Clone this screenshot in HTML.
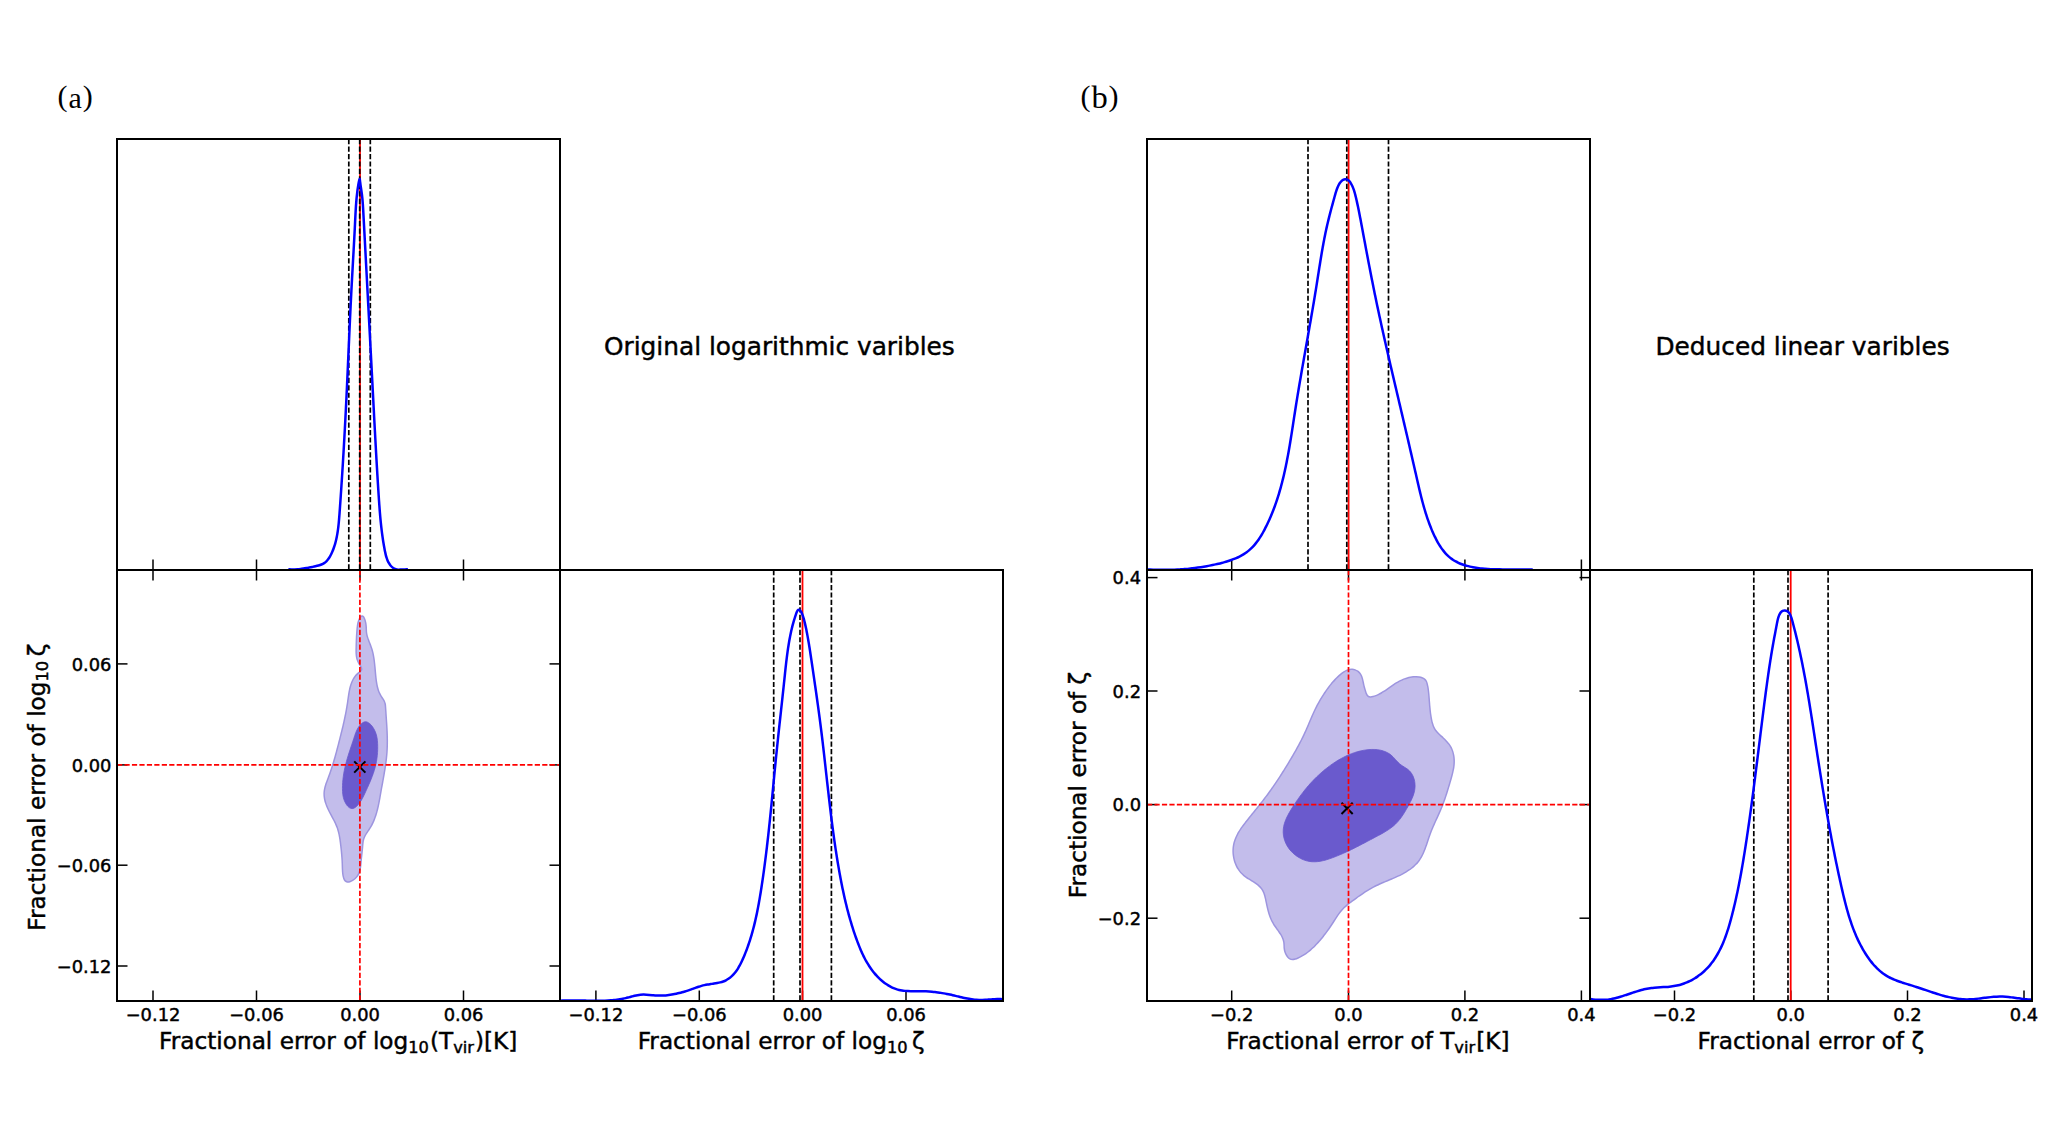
<!DOCTYPE html>
<html lang="en"><head><meta charset="utf-8"><title>Fractional error corner plots</title>
<style>html,body{margin:0;padding:0;background:#fff}svg{display:block}</style></head>
<body>
<svg width="2070" height="1142" viewBox="0 0 2070 1142">
<rect width="2070" height="1142" fill="#fff"/>
<defs>
<clipPath id="ca1"><rect x="117.00" y="139.00" width="443.00" height="431.00"/></clipPath>
<clipPath id="ca2"><rect x="117.00" y="570.00" width="443.00" height="431.00"/></clipPath>
<clipPath id="ca3"><rect x="560.00" y="570.00" width="443.00" height="431.00"/></clipPath>
<clipPath id="cb1"><rect x="1147.00" y="139.00" width="443.00" height="431.00"/></clipPath>
<clipPath id="cb2"><rect x="1147.00" y="570.00" width="443.00" height="431.00"/></clipPath>
<clipPath id="cb3"><rect x="1590.00" y="570.00" width="442.00" height="431.00"/></clipPath>
</defs>
<g clip-path="url(#ca2)">
<path d="M361.93,615.98C362.48,615.88 363.03,616.26 363.51,616.84C363.99,617.43 364.44,618.46 364.81,619.48C365.18,620.50 365.50,621.81 365.72,622.96C365.95,624.11 366.07,625.31 366.17,626.38C366.26,627.46 366.25,628.45 366.30,629.43C366.34,630.41 366.35,631.33 366.46,632.27C366.56,633.21 366.73,634.14 366.94,635.07C367.16,636.01 367.44,636.94 367.75,637.88C368.05,638.82 368.41,639.75 368.76,640.70C369.11,641.64 369.50,642.58 369.86,643.53C370.23,644.47 370.61,645.42 370.95,646.38C371.29,647.33 371.62,648.29 371.91,649.26C372.20,650.22 372.47,651.19 372.70,652.16C372.94,653.13 373.15,654.11 373.35,655.08C373.54,656.06 373.71,657.04 373.86,658.03C374.02,659.01 374.15,660.00 374.28,660.99C374.41,661.98 374.52,662.97 374.62,663.96C374.73,664.95 374.82,665.95 374.91,666.94C375.01,667.94 375.09,668.94 375.18,669.93C375.26,670.93 375.35,671.93 375.44,672.93C375.53,673.92 375.62,674.92 375.72,675.92C375.82,676.91 375.93,677.91 376.05,678.91C376.17,679.90 376.30,680.90 376.45,681.89C376.60,682.88 376.76,683.87 376.96,684.85C377.16,685.84 377.37,686.81 377.63,687.78C377.88,688.74 378.17,689.70 378.50,690.64C378.83,691.58 379.20,692.51 379.63,693.41C380.06,694.32 380.55,695.21 381.07,696.08C381.60,696.95 382.23,697.79 382.77,698.65C383.31,699.51 383.90,700.36 384.30,701.25C384.71,702.15 385.00,703.08 385.21,704.03C385.41,704.98 385.46,705.98 385.54,706.97C385.63,707.96 385.67,708.97 385.73,709.97C385.79,710.97 385.86,711.97 385.93,712.97C385.99,713.98 386.06,714.98 386.13,715.98C386.20,716.98 386.27,717.99 386.34,718.99C386.40,720.00 386.47,721.00 386.54,722.01C386.60,723.01 386.67,724.02 386.73,725.03C386.79,726.03 386.85,727.04 386.90,728.04C386.95,729.05 387.00,730.06 387.05,731.06C387.09,732.07 387.13,733.07 387.17,734.08C387.20,735.08 387.23,736.09 387.26,737.09C387.28,738.10 387.29,739.10 387.30,740.11C387.31,741.11 387.31,742.11 387.30,743.11C387.29,744.12 387.27,745.12 387.25,746.12C387.22,747.12 387.18,748.11 387.13,749.11C387.08,750.11 387.02,751.11 386.96,752.10C386.89,753.10 386.81,754.09 386.72,755.08C386.63,756.08 386.53,757.07 386.42,758.06C386.32,759.05 386.20,760.04 386.08,761.03C385.95,762.02 385.82,763.01 385.69,764.00C385.55,764.99 385.41,765.97 385.26,766.96C385.11,767.95 384.95,768.94 384.80,769.92C384.64,770.91 384.47,771.90 384.30,772.89C384.14,773.87 383.97,774.86 383.79,775.85C383.62,776.84 383.44,777.82 383.26,778.81C383.09,779.80 382.91,780.79 382.73,781.78C382.55,782.77 382.36,783.76 382.18,784.75C382.00,785.74 381.82,786.73 381.64,787.72C381.46,788.71 381.28,789.70 381.10,790.70C380.93,791.69 380.75,792.69 380.58,793.68C380.40,794.68 380.23,795.67 380.05,796.67C379.88,797.66 379.70,798.66 379.52,799.65C379.33,800.64 379.15,801.63 378.95,802.62C378.76,803.61 378.56,804.59 378.34,805.57C378.13,806.55 377.91,807.53 377.68,808.51C377.44,809.48 377.20,810.45 376.94,811.41C376.68,812.37 376.40,813.33 376.11,814.28C375.82,815.23 375.51,816.17 375.18,817.11C374.85,818.04 374.50,818.97 374.13,819.89C373.76,820.81 373.37,821.72 372.95,822.62C372.53,823.52 372.09,824.41 371.62,825.29C371.15,826.17 370.65,827.04 370.12,827.90C369.60,828.76 369.02,829.60 368.46,830.45C367.90,831.29 367.31,832.12 366.77,832.96C366.22,833.81 365.67,834.65 365.21,835.52C364.74,836.39 364.30,837.27 363.96,838.18C363.63,839.09 363.39,840.03 363.19,840.98C363.00,841.94 362.92,842.93 362.82,843.92C362.71,844.91 362.66,845.91 362.57,846.91C362.49,847.90 362.39,848.89 362.29,849.89C362.19,850.88 362.08,851.87 361.97,852.87C361.86,853.86 361.74,854.85 361.63,855.85C361.52,856.85 361.41,857.85 361.31,858.85C361.21,859.86 361.13,860.87 361.04,861.88C360.95,862.89 360.87,863.91 360.76,864.91C360.65,865.91 360.54,866.92 360.37,867.90C360.20,868.88 360.01,869.86 359.74,870.80C359.47,871.74 359.15,872.67 358.74,873.57C358.33,874.46 357.86,875.32 357.27,876.15C356.68,876.97 355.98,877.77 355.20,878.49C354.42,879.21 353.50,879.91 352.60,880.45C351.71,880.99 350.72,881.46 349.83,881.72C348.93,881.97 348.01,882.10 347.25,881.97C346.48,881.83 345.79,881.46 345.23,880.90C344.67,880.34 344.24,879.50 343.88,878.60C343.52,877.71 343.28,876.61 343.07,875.55C342.86,874.48 342.74,873.30 342.64,872.22C342.54,871.14 342.49,870.09 342.45,869.07C342.40,868.05 342.39,867.09 342.36,866.12C342.34,865.14 342.32,864.18 342.28,863.21C342.24,862.24 342.19,861.26 342.14,860.28C342.08,859.30 342.01,858.32 341.94,857.33C341.87,856.34 341.79,855.35 341.70,854.35C341.61,853.36 341.52,852.36 341.42,851.36C341.32,850.36 341.22,849.35 341.11,848.35C341.00,847.34 340.89,846.33 340.77,845.32C340.66,844.31 340.54,843.30 340.40,842.29C340.27,841.28 340.13,840.27 339.98,839.27C339.82,838.27 339.66,837.27 339.47,836.28C339.28,835.28 339.08,834.29 338.86,833.32C338.63,832.34 338.38,831.37 338.10,830.42C337.83,829.46 337.53,828.51 337.19,827.58C336.86,826.65 336.49,825.74 336.10,824.83C335.71,823.93 335.29,823.03 334.86,822.15C334.42,821.26 333.96,820.38 333.50,819.50C333.04,818.62 332.56,817.75 332.09,816.87C331.61,815.99 331.13,815.11 330.65,814.22C330.18,813.33 329.71,812.43 329.25,811.52C328.80,810.62 328.35,809.70 327.93,808.77C327.51,807.84 327.10,806.90 326.73,805.96C326.36,805.01 326.00,804.06 325.70,803.10C325.39,802.14 325.11,801.18 324.89,800.21C324.66,799.25 324.47,798.28 324.35,797.31C324.22,796.34 324.13,795.37 324.12,794.40C324.10,793.43 324.14,792.46 324.24,791.50C324.34,790.53 324.51,789.57 324.72,788.61C324.92,787.65 325.18,786.69 325.46,785.73C325.74,784.77 326.06,783.81 326.39,782.86C326.72,781.90 327.09,780.94 327.44,779.98C327.80,779.03 328.17,778.07 328.53,777.11C328.89,776.16 329.24,775.20 329.59,774.24C329.93,773.28 330.27,772.32 330.60,771.36C330.92,770.40 331.24,769.44 331.56,768.48C331.87,767.52 332.18,766.56 332.48,765.60C332.78,764.64 333.08,763.67 333.37,762.71C333.66,761.75 333.94,760.79 334.22,759.82C334.50,758.86 334.77,757.90 335.05,756.93C335.32,755.97 335.58,755.00 335.85,754.04C336.11,753.08 336.37,752.11 336.63,751.15C336.89,750.18 337.14,749.22 337.39,748.25C337.65,747.29 337.90,746.33 338.15,745.36C338.40,744.40 338.65,743.43 338.89,742.47C339.14,741.50 339.39,740.54 339.64,739.57C339.88,738.61 340.13,737.64 340.37,736.68C340.62,735.71 340.86,734.75 341.10,733.78C341.34,732.82 341.58,731.85 341.82,730.88C342.06,729.91 342.29,728.95 342.52,727.98C342.76,727.01 342.99,726.04 343.21,725.06C343.44,724.09 343.66,723.12 343.88,722.14C344.10,721.17 344.31,720.19 344.52,719.21C344.73,718.23 344.94,717.25 345.14,716.27C345.34,715.29 345.54,714.30 345.73,713.31C345.92,712.32 346.10,711.33 346.28,710.34C346.46,709.35 346.64,708.35 346.81,707.36C346.97,706.36 347.14,705.36 347.29,704.35C347.45,703.35 347.59,702.34 347.74,701.33C347.88,700.32 348.01,699.30 348.16,698.29C348.30,697.28 348.44,696.27 348.59,695.27C348.74,694.26 348.90,693.26 349.07,692.27C349.25,691.28 349.44,690.29 349.65,689.32C349.87,688.35 350.10,687.38 350.37,686.44C350.63,685.50 350.92,684.56 351.26,683.65C351.59,682.74 351.95,681.85 352.36,680.98C352.78,680.11 353.22,679.26 353.73,678.44C354.23,677.61 354.78,676.82 355.39,676.05C356.00,675.28 356.67,674.54 357.39,673.84C358.12,673.13 359.05,672.49 359.75,671.81C360.45,671.14 361.35,670.53 361.59,669.77C361.82,669.02 361.49,668.16 361.16,667.30C360.83,666.44 360.10,665.52 359.60,664.63C359.10,663.74 358.58,662.87 358.16,661.96C357.75,661.05 357.38,660.13 357.09,659.18C356.81,658.24 356.62,657.26 356.47,656.28C356.31,655.30 356.24,654.29 356.18,653.29C356.12,652.28 356.12,651.26 356.12,650.25C356.12,649.23 356.15,648.21 356.18,647.19C356.20,646.18 356.23,645.17 356.26,644.17C356.29,643.16 356.32,642.17 356.36,641.17C356.39,640.17 356.43,639.18 356.48,638.19C356.52,637.19 356.57,636.21 356.63,635.21C356.69,634.22 356.75,633.23 356.83,632.24C356.91,631.25 356.99,630.26 357.09,629.26C357.19,628.26 357.28,627.26 357.42,626.26C357.55,625.26 357.67,624.25 357.89,623.24C358.11,622.23 358.38,621.19 358.76,620.22C359.15,619.26 359.69,618.14 360.21,617.43C360.74,616.72 361.38,616.08 361.93,615.98Z" fill="#c3bdeb" stroke="#9d95df" stroke-width="1.5"/>
<path d="M365.11,721.81C365.90,721.73 366.72,721.90 367.51,722.21C368.30,722.53 369.09,723.08 369.83,723.71C370.57,724.34 371.31,725.15 371.97,726.01C372.64,726.86 373.28,727.84 373.84,728.81C374.40,729.78 374.91,730.83 375.33,731.83C375.76,732.83 376.09,733.83 376.38,734.81C376.66,735.80 376.86,736.76 377.03,737.73C377.21,738.70 377.32,739.66 377.41,740.63C377.51,741.60 377.57,742.57 377.62,743.55C377.66,744.54 377.69,745.53 377.70,746.53C377.71,747.52 377.71,748.53 377.68,749.53C377.65,750.54 377.61,751.55 377.54,752.57C377.48,753.58 377.39,754.60 377.29,755.61C377.18,756.63 377.06,757.64 376.92,758.65C376.77,759.67 376.61,760.68 376.43,761.69C376.24,762.69 376.04,763.70 375.81,764.69C375.59,765.69 375.34,766.68 375.08,767.66C374.82,768.65 374.53,769.62 374.23,770.59C373.93,771.56 373.61,772.53 373.28,773.48C372.95,774.44 372.60,775.39 372.24,776.34C371.89,777.29 371.52,778.23 371.14,779.17C370.76,780.11 370.37,781.04 369.98,781.97C369.58,782.91 369.18,783.83 368.77,784.76C368.37,785.68 367.95,786.60 367.54,787.52C367.13,788.44 366.71,789.35 366.30,790.27C365.88,791.18 365.48,792.10 365.06,793.01C364.64,793.92 364.23,794.83 363.79,795.74C363.35,796.64 362.90,797.55 362.40,798.45C361.91,799.35 361.39,800.25 360.81,801.14C360.23,802.03 359.60,802.94 358.93,803.79C358.25,804.63 357.50,805.52 356.75,806.21C355.99,806.91 355.19,807.57 354.39,807.97C353.60,808.37 352.78,808.63 351.99,808.61C351.21,808.59 350.41,808.29 349.67,807.86C348.93,807.42 348.19,806.74 347.53,806.00C346.87,805.27 346.25,804.34 345.71,803.43C345.17,802.51 344.69,801.50 344.30,800.51C343.90,799.53 343.60,798.53 343.35,797.53C343.11,796.54 342.94,795.53 342.80,794.53C342.67,793.53 342.59,792.52 342.54,791.51C342.48,790.50 342.47,789.49 342.46,788.48C342.46,787.47 342.48,786.46 342.51,785.45C342.54,784.44 342.60,783.43 342.67,782.42C342.74,781.41 342.83,780.40 342.93,779.39C343.04,778.39 343.16,777.38 343.30,776.38C343.43,775.37 343.59,774.37 343.75,773.37C343.92,772.37 344.10,771.37 344.30,770.38C344.50,769.38 344.71,768.39 344.93,767.40C345.15,766.41 345.39,765.43 345.63,764.44C345.88,763.46 346.14,762.48 346.41,761.51C346.67,760.53 346.95,759.56 347.24,758.59C347.52,757.62 347.82,756.65 348.12,755.69C348.42,754.72 348.73,753.76 349.04,752.79C349.35,751.83 349.67,750.87 349.99,749.91C350.30,748.94 350.63,747.98 350.95,747.02C351.27,746.06 351.60,745.09 351.92,744.13C352.24,743.17 352.57,742.20 352.89,741.24C353.21,740.27 353.52,739.30 353.84,738.33C354.16,737.36 354.46,736.38 354.78,735.42C355.11,734.45 355.43,733.48 355.80,732.53C356.18,731.58 356.57,730.63 357.03,729.71C357.49,728.79 357.99,727.87 358.58,727.01C359.16,726.15 359.82,725.27 360.51,724.55C361.20,723.83 361.97,723.14 362.73,722.68C363.50,722.23 364.31,721.89 365.11,721.81Z" fill="#6a5acd" stroke="#6a5acd" stroke-width="0.8"/>
</g>
<g clip-path="url(#cb2)">
<path d="M1352.21,669.20C1353.16,669.27 1354.14,669.49 1355.05,669.83C1355.97,670.16 1356.89,670.65 1357.69,671.22C1358.49,671.79 1359.25,672.49 1359.87,673.25C1360.48,674.01 1360.97,674.88 1361.39,675.78C1361.81,676.68 1362.11,677.66 1362.39,678.63C1362.67,679.61 1362.86,680.63 1363.08,681.62C1363.30,682.62 1363.48,683.61 1363.70,684.58C1363.92,685.54 1364.15,686.46 1364.42,687.43C1364.68,688.39 1364.96,689.36 1365.28,690.39C1365.60,691.42 1365.90,692.66 1366.35,693.60C1366.80,694.55 1367.30,695.52 1367.97,696.07C1368.64,696.62 1369.49,696.81 1370.35,696.89C1371.21,696.97 1372.21,696.75 1373.15,696.54C1374.09,696.32 1375.06,695.96 1375.99,695.60C1376.91,695.25 1377.81,694.84 1378.70,694.41C1379.58,693.98 1380.44,693.50 1381.30,693.01C1382.15,692.52 1382.98,692.00 1383.82,691.46C1384.65,690.92 1385.47,690.36 1386.29,689.80C1387.11,689.23 1387.93,688.65 1388.75,688.07C1389.57,687.49 1390.39,686.90 1391.22,686.33C1392.05,685.75 1392.89,685.17 1393.74,684.61C1394.59,684.05 1395.46,683.50 1396.34,682.97C1397.22,682.45 1398.11,681.93 1399.02,681.45C1399.92,680.97 1400.84,680.50 1401.77,680.08C1402.70,679.65 1403.64,679.25 1404.58,678.89C1405.53,678.53 1406.48,678.21 1407.44,677.93C1408.40,677.65 1409.37,677.41 1410.33,677.23C1411.30,677.04 1412.27,676.90 1413.24,676.82C1414.22,676.74 1415.19,676.71 1416.16,676.75C1417.13,676.79 1418.11,676.88 1419.08,677.05C1420.04,677.22 1421.05,677.42 1421.96,677.76C1422.86,678.09 1423.80,678.48 1424.53,679.06C1425.25,679.65 1425.85,680.41 1426.31,681.27C1426.76,682.13 1426.99,683.22 1427.26,684.21C1427.52,685.21 1427.72,686.23 1427.90,687.23C1428.08,688.23 1428.23,689.23 1428.36,690.23C1428.49,691.23 1428.59,692.23 1428.69,693.23C1428.79,694.23 1428.88,695.23 1428.96,696.22C1429.04,697.22 1429.12,698.22 1429.20,699.21C1429.28,700.21 1429.35,701.21 1429.43,702.20C1429.50,703.20 1429.58,704.20 1429.66,705.19C1429.75,706.19 1429.83,707.18 1429.93,708.18C1430.03,709.17 1430.13,710.17 1430.24,711.16C1430.35,712.16 1430.48,713.15 1430.61,714.15C1430.75,715.14 1430.90,716.14 1431.07,717.13C1431.24,718.13 1431.42,719.13 1431.63,720.12C1431.84,721.11 1432.06,722.10 1432.33,723.07C1432.61,724.04 1432.91,725.00 1433.28,725.92C1433.65,726.84 1434.06,727.73 1434.55,728.58C1435.04,729.43 1435.61,730.24 1436.21,731.02C1436.82,731.79 1437.51,732.52 1438.20,733.25C1438.89,733.97 1439.64,734.66 1440.38,735.36C1441.11,736.05 1441.88,736.73 1442.61,737.42C1443.35,738.11 1444.09,738.79 1444.80,739.50C1445.51,740.20 1446.21,740.91 1446.87,741.65C1447.53,742.39 1448.17,743.14 1448.76,743.92C1449.35,744.71 1449.91,745.52 1450.41,746.37C1450.92,747.22 1451.38,748.11 1451.78,749.03C1452.18,749.95 1452.53,750.91 1452.83,751.88C1453.13,752.85 1453.37,753.85 1453.57,754.85C1453.77,755.85 1453.92,756.87 1454.02,757.87C1454.12,758.87 1454.17,759.87 1454.19,760.86C1454.20,761.86 1454.16,762.85 1454.10,763.83C1454.03,764.82 1453.92,765.80 1453.79,766.78C1453.66,767.76 1453.49,768.73 1453.30,769.71C1453.12,770.68 1452.90,771.65 1452.67,772.62C1452.44,773.59 1452.19,774.56 1451.94,775.53C1451.68,776.50 1451.41,777.46 1451.14,778.43C1450.86,779.40 1450.58,780.37 1450.30,781.34C1450.02,782.31 1449.74,783.28 1449.46,784.25C1449.17,785.22 1448.88,786.19 1448.59,787.16C1448.30,788.13 1448.01,789.10 1447.71,790.06C1447.41,791.03 1447.11,792.00 1446.80,792.96C1446.50,793.92 1446.19,794.89 1445.87,795.84C1445.55,796.80 1445.23,797.76 1444.90,798.71C1444.57,799.66 1444.23,800.61 1443.89,801.55C1443.55,802.50 1443.20,803.44 1442.84,804.37C1442.48,805.31 1442.11,806.24 1441.74,807.16C1441.36,808.09 1440.98,809.00 1440.59,809.92C1440.20,810.83 1439.80,811.74 1439.40,812.65C1439.00,813.56 1438.59,814.46 1438.18,815.37C1437.78,816.27 1437.36,817.17 1436.95,818.08C1436.54,818.98 1436.13,819.88 1435.72,820.79C1435.31,821.69 1434.90,822.60 1434.49,823.51C1434.08,824.42 1433.68,825.33 1433.28,826.25C1432.89,827.17 1432.49,828.09 1432.11,829.02C1431.72,829.95 1431.35,830.88 1430.98,831.83C1430.61,832.77 1430.25,833.72 1429.90,834.68C1429.56,835.64 1429.22,836.61 1428.89,837.58C1428.56,838.55 1428.24,839.53 1427.91,840.51C1427.58,841.48 1427.26,842.47 1426.93,843.44C1426.61,844.42 1426.28,845.39 1425.94,846.36C1425.60,847.32 1425.25,848.28 1424.89,849.23C1424.52,850.18 1424.15,851.12 1423.75,852.04C1423.36,852.96 1422.95,853.87 1422.51,854.76C1422.07,855.65 1421.61,856.53 1421.12,857.38C1420.63,858.22 1420.12,859.05 1419.57,859.85C1419.02,860.66 1418.43,861.43 1417.82,862.18C1417.20,862.93 1416.55,863.65 1415.87,864.34C1415.19,865.04 1414.48,865.71 1413.75,866.36C1413.01,867.01 1412.25,867.64 1411.47,868.24C1410.69,868.85 1409.89,869.43 1409.06,869.99C1408.24,870.56 1407.40,871.10 1406.55,871.62C1405.69,872.15 1404.82,872.66 1403.94,873.15C1403.06,873.64 1402.16,874.11 1401.26,874.57C1400.36,875.04 1399.45,875.48 1398.53,875.91C1397.62,876.35 1396.70,876.76 1395.78,877.17C1394.86,877.58 1393.93,877.98 1393.01,878.38C1392.08,878.77 1391.15,879.15 1390.22,879.54C1389.30,879.92 1388.37,880.30 1387.44,880.69C1386.51,881.07 1385.58,881.45 1384.66,881.83C1383.74,882.22 1382.81,882.61 1381.90,883.00C1380.98,883.40 1380.06,883.80 1379.15,884.22C1378.25,884.63 1377.34,885.06 1376.44,885.50C1375.55,885.94 1374.65,886.39 1373.77,886.86C1372.89,887.33 1372.01,887.81 1371.14,888.30C1370.27,888.80 1369.40,889.31 1368.54,889.83C1367.68,890.35 1366.83,890.88 1365.98,891.42C1365.13,891.96 1364.29,892.51 1363.45,893.07C1362.61,893.63 1361.77,894.20 1360.94,894.77C1360.11,895.34 1359.29,895.92 1358.46,896.51C1357.64,897.09 1356.82,897.68 1356.01,898.27C1355.19,898.86 1354.38,899.46 1353.57,900.06C1352.75,900.65 1351.94,901.25 1351.14,901.85C1350.34,902.46 1349.53,903.06 1348.75,903.67C1347.96,904.29 1347.18,904.91 1346.42,905.56C1345.66,906.20 1344.92,906.86 1344.20,907.54C1343.49,908.23 1342.79,908.93 1342.13,909.67C1341.46,910.41 1340.83,911.18 1340.21,911.96C1339.60,912.75 1339.01,913.56 1338.43,914.38C1337.86,915.21 1337.30,916.05 1336.74,916.89C1336.19,917.74 1335.65,918.59 1335.10,919.44C1334.55,920.29 1334.01,921.15 1333.46,921.99C1332.91,922.84 1332.36,923.68 1331.80,924.52C1331.24,925.36 1330.68,926.19 1330.12,927.02C1329.55,927.85 1328.98,928.67 1328.40,929.49C1327.82,930.30 1327.24,931.11 1326.65,931.92C1326.06,932.72 1325.46,933.52 1324.85,934.32C1324.25,935.11 1323.63,935.90 1323.01,936.68C1322.38,937.46 1321.75,938.23 1321.11,938.99C1320.47,939.76 1319.82,940.52 1319.15,941.27C1318.49,942.02 1317.82,942.76 1317.13,943.50C1316.45,944.23 1315.75,944.96 1315.04,945.68C1314.33,946.39 1313.61,947.10 1312.88,947.79C1312.14,948.48 1311.39,949.16 1310.63,949.82C1309.87,950.48 1309.09,951.13 1308.30,951.75C1307.51,952.37 1306.71,952.97 1305.89,953.54C1305.07,954.12 1304.23,954.67 1303.38,955.19C1302.53,955.71 1301.67,956.20 1300.78,956.66C1299.90,957.12 1299.00,957.56 1298.09,957.95C1297.17,958.34 1296.22,958.74 1295.29,959.01C1294.35,959.28 1293.38,959.56 1292.48,959.54C1291.58,959.53 1290.68,959.35 1289.88,958.91C1289.09,958.48 1288.33,957.69 1287.69,956.93C1287.04,956.18 1286.48,955.28 1286.01,954.38C1285.54,953.48 1285.16,952.50 1284.86,951.52C1284.57,950.53 1284.38,949.49 1284.26,948.46C1284.13,947.43 1284.17,946.36 1284.11,945.33C1284.05,944.30 1284.03,943.28 1283.87,942.30C1283.71,941.32 1283.46,940.37 1283.15,939.45C1282.84,938.53 1282.44,937.64 1282.01,936.77C1281.59,935.89 1281.09,935.04 1280.57,934.20C1280.06,933.36 1279.49,932.53 1278.92,931.71C1278.36,930.88 1277.75,930.07 1277.17,929.25C1276.58,928.43 1275.98,927.62 1275.41,926.79C1274.83,925.96 1274.26,925.13 1273.74,924.28C1273.21,923.44 1272.71,922.57 1272.25,921.69C1271.79,920.82 1271.37,919.92 1270.98,919.01C1270.58,918.11 1270.22,917.18 1269.89,916.25C1269.55,915.32 1269.24,914.37 1268.94,913.42C1268.65,912.47 1268.38,911.51 1268.12,910.54C1267.87,909.57 1267.63,908.59 1267.40,907.61C1267.17,906.63 1266.95,905.65 1266.74,904.66C1266.53,903.67 1266.33,902.68 1266.12,901.69C1265.91,900.69 1265.72,899.69 1265.50,898.71C1265.28,897.73 1265.06,896.74 1264.79,895.78C1264.52,894.83 1264.24,893.88 1263.88,892.97C1263.52,892.07 1263.12,891.18 1262.64,890.35C1262.15,889.51 1261.59,888.72 1260.97,887.97C1260.34,887.22 1259.63,886.51 1258.89,885.84C1258.15,885.16 1257.34,884.53 1256.52,883.91C1255.70,883.30 1254.83,882.72 1253.98,882.16C1253.12,881.59 1252.24,881.06 1251.37,880.52C1250.51,879.99 1249.64,879.47 1248.79,878.94C1247.95,878.41 1247.10,877.88 1246.29,877.32C1245.48,876.75 1244.69,876.18 1243.94,875.56C1243.18,874.93 1242.46,874.28 1241.77,873.58C1241.09,872.88 1240.44,872.13 1239.83,871.36C1239.22,870.59 1238.65,869.77 1238.12,868.93C1237.59,868.10 1237.10,867.22 1236.65,866.33C1236.20,865.43 1235.79,864.51 1235.43,863.57C1235.06,862.63 1234.74,861.66 1234.46,860.69C1234.18,859.72 1233.94,858.72 1233.75,857.72C1233.55,856.73 1233.40,855.71 1233.29,854.70C1233.19,853.69 1233.12,852.67 1233.10,851.66C1233.08,850.65 1233.11,849.63 1233.17,848.63C1233.24,847.63 1233.36,846.63 1233.52,845.64C1233.67,844.66 1233.88,843.69 1234.13,842.74C1234.37,841.78 1234.67,840.84 1235.00,839.92C1235.32,838.99 1235.69,838.09 1236.09,837.19C1236.49,836.29 1236.93,835.40 1237.39,834.53C1237.85,833.65 1238.34,832.79 1238.85,831.94C1239.37,831.08 1239.91,830.24 1240.46,829.40C1241.01,828.57 1241.59,827.74 1242.17,826.92C1242.76,826.10 1243.36,825.29 1243.97,824.48C1244.58,823.67 1245.19,822.87 1245.81,822.07C1246.43,821.27 1247.06,820.48 1247.68,819.69C1248.31,818.89 1248.93,818.11 1249.56,817.32C1250.19,816.54 1250.82,815.75 1251.45,814.97C1252.08,814.19 1252.71,813.41 1253.34,812.63C1253.97,811.85 1254.61,811.07 1255.24,810.30C1255.87,809.52 1256.50,808.74 1257.13,807.96C1257.75,807.18 1258.38,806.40 1259.01,805.62C1259.63,804.84 1260.25,804.06 1260.87,803.27C1261.49,802.48 1262.11,801.70 1262.72,800.91C1263.33,800.11 1263.94,799.32 1264.55,798.52C1265.16,797.73 1265.76,796.92 1266.36,796.12C1266.96,795.32 1267.55,794.51 1268.14,793.70C1268.73,792.89 1269.32,792.08 1269.91,791.26C1270.49,790.45 1271.07,789.63 1271.65,788.81C1272.23,787.99 1272.81,787.17 1273.38,786.34C1273.95,785.52 1274.52,784.69 1275.08,783.86C1275.65,783.03 1276.21,782.20 1276.77,781.36C1277.33,780.53 1277.89,779.69 1278.44,778.85C1278.99,778.01 1279.54,777.17 1280.09,776.33C1280.64,775.48 1281.18,774.64 1281.72,773.79C1282.27,772.95 1282.81,772.10 1283.34,771.25C1283.88,770.40 1284.41,769.54 1284.94,768.69C1285.47,767.84 1286.00,766.98 1286.53,766.12C1287.05,765.27 1287.57,764.41 1288.09,763.55C1288.62,762.69 1289.13,761.83 1289.65,760.97C1290.16,760.11 1290.68,759.24 1291.19,758.38C1291.70,757.52 1292.21,756.65 1292.71,755.78C1293.22,754.92 1293.72,754.05 1294.22,753.18C1294.72,752.31 1295.22,751.44 1295.71,750.57C1296.20,749.70 1296.69,748.82 1297.17,747.94C1297.66,747.07 1298.14,746.19 1298.61,745.31C1299.08,744.43 1299.55,743.54 1300.02,742.65C1300.48,741.77 1300.94,740.88 1301.40,739.99C1301.85,739.09 1302.30,738.20 1302.74,737.30C1303.18,736.40 1303.61,735.50 1304.04,734.59C1304.47,733.68 1304.89,732.77 1305.30,731.86C1305.71,730.95 1306.12,730.03 1306.52,729.11C1306.93,728.19 1307.32,727.27 1307.72,726.35C1308.12,725.42 1308.51,724.50 1308.90,723.57C1309.29,722.65 1309.68,721.72 1310.08,720.79C1310.47,719.87 1310.86,718.94 1311.26,718.02C1311.66,717.10 1312.06,716.17 1312.46,715.25C1312.87,714.34 1313.28,713.42 1313.70,712.50C1314.12,711.59 1314.54,710.68 1314.97,709.77C1315.41,708.87 1315.85,707.97 1316.30,707.07C1316.75,706.17 1317.22,705.28 1317.69,704.40C1318.16,703.51 1318.65,702.63 1319.14,701.76C1319.63,700.88 1320.14,700.01 1320.65,699.15C1321.16,698.29 1321.68,697.43 1322.22,696.59C1322.75,695.74 1323.29,694.89 1323.84,694.06C1324.39,693.22 1324.96,692.40 1325.53,691.57C1326.10,690.75 1326.68,689.94 1327.27,689.13C1327.86,688.33 1328.45,687.53 1329.06,686.74C1329.67,685.95 1330.29,685.17 1330.91,684.39C1331.54,683.62 1332.17,682.86 1332.82,682.10C1333.47,681.35 1334.12,680.60 1334.80,679.87C1335.47,679.13 1336.16,678.41 1336.88,677.70C1337.59,677.00 1338.32,676.30 1339.08,675.63C1339.84,674.95 1340.62,674.28 1341.44,673.65C1342.25,673.02 1343.09,672.39 1343.96,671.84C1344.82,671.30 1345.71,670.77 1346.61,670.37C1347.52,669.97 1348.44,669.62 1349.37,669.43C1350.31,669.23 1351.26,669.14 1352.21,669.20Z" fill="#c3bdeb" stroke="#9d95df" stroke-width="1.5"/>
<path d="M1368.88,749.61C1369.87,749.53 1370.86,749.48 1371.85,749.45C1372.83,749.43 1373.82,749.44 1374.80,749.49C1375.78,749.53 1376.76,749.61 1377.73,749.73C1378.70,749.85 1379.66,750.01 1380.60,750.21C1381.54,750.42 1382.48,750.66 1383.39,750.96C1384.31,751.26 1385.21,751.60 1386.08,752.00C1386.96,752.40 1387.82,752.85 1388.65,753.36C1389.48,753.87 1390.29,754.44 1391.06,755.07C1391.84,755.70 1392.58,756.40 1393.31,757.14C1394.03,757.87 1394.72,758.68 1395.43,759.46C1396.15,760.25 1396.84,761.07 1397.57,761.83C1398.31,762.59 1399.05,763.35 1399.84,764.01C1400.64,764.68 1401.49,765.27 1402.34,765.84C1403.19,766.41 1404.09,766.90 1404.94,767.44C1405.79,767.98 1406.65,768.49 1407.43,769.08C1408.22,769.68 1408.96,770.31 1409.63,771.01C1410.30,771.71 1410.90,772.47 1411.45,773.27C1411.99,774.07 1412.47,774.92 1412.89,775.80C1413.31,776.68 1413.67,777.60 1413.97,778.54C1414.27,779.47 1414.51,780.44 1414.68,781.42C1414.86,782.39 1414.98,783.39 1415.03,784.38C1415.09,785.37 1415.08,786.37 1415.02,787.35C1414.96,788.34 1414.83,789.32 1414.66,790.29C1414.49,791.26 1414.25,792.21 1413.98,793.16C1413.72,794.12 1413.40,795.06 1413.05,795.99C1412.70,796.93 1412.31,797.86 1411.90,798.78C1411.49,799.70 1411.05,800.62 1410.60,801.53C1410.14,802.44 1409.66,803.35 1409.18,804.25C1408.70,805.15 1408.20,806.05 1407.71,806.94C1407.21,807.83 1406.71,808.72 1406.20,809.60C1405.69,810.48 1405.18,811.36 1404.65,812.22C1404.13,813.08 1403.59,813.93 1403.04,814.77C1402.49,815.61 1401.93,816.43 1401.35,817.24C1400.77,818.05 1400.17,818.84 1399.56,819.61C1398.94,820.38 1398.31,821.13 1397.65,821.86C1397.00,822.59 1396.32,823.30 1395.62,823.98C1394.92,824.66 1394.19,825.31 1393.44,825.95C1392.69,826.58 1391.92,827.19 1391.13,827.78C1390.34,828.37 1389.53,828.94 1388.71,829.49C1387.88,830.05 1387.04,830.58 1386.19,831.11C1385.34,831.64 1384.48,832.15 1383.61,832.65C1382.74,833.15 1381.86,833.64 1380.97,834.13C1380.09,834.62 1379.19,835.09 1378.30,835.57C1377.41,836.05 1376.51,836.52 1375.62,836.99C1374.72,837.46 1373.83,837.93 1372.94,838.41C1372.05,838.88 1371.16,839.35 1370.27,839.82C1369.38,840.30 1368.49,840.77 1367.61,841.24C1366.72,841.71 1365.83,842.18 1364.95,842.65C1364.06,843.11 1363.17,843.58 1362.29,844.04C1361.40,844.51 1360.51,844.97 1359.63,845.43C1358.74,845.89 1357.85,846.34 1356.96,846.79C1356.07,847.25 1355.18,847.70 1354.29,848.14C1353.40,848.59 1352.50,849.03 1351.61,849.47C1350.71,849.90 1349.81,850.34 1348.91,850.76C1348.01,851.19 1347.11,851.61 1346.20,852.03C1345.30,852.45 1344.39,852.86 1343.48,853.27C1342.57,853.67 1341.65,854.07 1340.73,854.46C1339.81,854.86 1338.89,855.24 1337.96,855.62C1337.04,856.00 1336.11,856.37 1335.17,856.73C1334.23,857.10 1333.29,857.46 1332.35,857.80C1331.40,858.15 1330.45,858.49 1329.50,858.81C1328.55,859.13 1327.59,859.44 1326.63,859.73C1325.67,860.01 1324.70,860.28 1323.74,860.52C1322.77,860.76 1321.81,860.97 1320.84,861.15C1319.87,861.33 1318.90,861.48 1317.92,861.59C1316.95,861.70 1315.98,861.78 1315.01,861.81C1314.04,861.84 1313.07,861.83 1312.10,861.76C1311.13,861.70 1310.16,861.59 1309.19,861.42C1308.23,861.26 1307.26,861.03 1306.30,860.76C1305.35,860.49 1304.39,860.16 1303.45,859.78C1302.51,859.41 1301.58,858.98 1300.67,858.51C1299.76,858.05 1298.87,857.53 1298.00,856.98C1297.13,856.43 1296.28,855.83 1295.46,855.20C1294.64,854.57 1293.85,853.90 1293.09,853.20C1292.33,852.50 1291.60,851.77 1290.92,851.01C1290.24,850.25 1289.59,849.46 1288.98,848.65C1288.38,847.83 1287.82,846.99 1287.31,846.14C1286.80,845.28 1286.33,844.40 1285.91,843.50C1285.49,842.61 1285.11,841.69 1284.79,840.77C1284.46,839.84 1284.19,838.90 1283.96,837.96C1283.73,837.02 1283.55,836.06 1283.42,835.10C1283.30,834.14 1283.22,833.18 1283.19,832.22C1283.17,831.26 1283.20,830.29 1283.28,829.33C1283.36,828.37 1283.50,827.41 1283.68,826.46C1283.86,825.51 1284.10,824.57 1284.37,823.62C1284.65,822.68 1284.97,821.75 1285.32,820.82C1285.68,819.89 1286.07,818.96 1286.49,818.04C1286.91,817.13 1287.36,816.21 1287.83,815.31C1288.30,814.40 1288.80,813.50 1289.31,812.60C1289.82,811.71 1290.35,810.82 1290.89,809.94C1291.42,809.06 1291.97,808.18 1292.52,807.31C1293.07,806.44 1293.62,805.58 1294.18,804.73C1294.74,803.87 1295.30,803.02 1295.86,802.18C1296.43,801.34 1297.00,800.51 1297.57,799.68C1298.15,798.86 1298.73,798.04 1299.31,797.22C1299.89,796.41 1300.48,795.60 1301.08,794.80C1301.67,794.00 1302.27,793.21 1302.88,792.43C1303.48,791.64 1304.09,790.86 1304.71,790.09C1305.33,789.32 1305.95,788.56 1306.58,787.80C1307.21,787.04 1307.85,786.29 1308.50,785.55C1309.14,784.81 1309.79,784.07 1310.45,783.34C1311.11,782.61 1311.78,781.89 1312.45,781.18C1313.12,780.46 1313.81,779.75 1314.50,779.05C1315.19,778.35 1315.89,777.66 1316.59,776.97C1317.30,776.29 1318.01,775.61 1318.74,774.94C1319.46,774.26 1320.20,773.60 1320.94,772.94C1321.68,772.28 1322.44,771.63 1323.20,770.99C1323.96,770.35 1324.73,769.71 1325.52,769.08C1326.30,768.45 1327.09,767.83 1327.89,767.22C1328.69,766.61 1329.51,766.00 1330.33,765.41C1331.15,764.81 1331.98,764.23 1332.81,763.66C1333.65,763.08 1334.50,762.52 1335.35,761.97C1336.21,761.42 1337.07,760.89 1337.94,760.36C1338.81,759.84 1339.69,759.33 1340.58,758.84C1341.46,758.34 1342.35,757.86 1343.25,757.40C1344.15,756.93 1345.06,756.48 1345.97,756.05C1346.89,755.62 1347.81,755.21 1348.73,754.81C1349.66,754.42 1350.59,754.04 1351.52,753.68C1352.46,753.32 1353.40,752.99 1354.35,752.67C1355.30,752.35 1356.25,752.05 1357.21,751.78C1358.16,751.50 1359.12,751.25 1360.09,751.02C1361.06,750.79 1362.03,750.58 1363.00,750.40C1363.97,750.22 1364.95,750.06 1365.93,749.93C1366.91,749.80 1367.90,749.69 1368.88,749.61Z" fill="#6a5acd" stroke="#6a5acd" stroke-width="0.8"/>
</g>
<line x1="153.00" y1="570.00" x2="153.00" y2="559.50" stroke="#000" stroke-width="1.50"/>
<line x1="153.00" y1="570.00" x2="153.00" y2="580.50" stroke="#000" stroke-width="1.50"/>
<line x1="256.50" y1="570.00" x2="256.50" y2="559.50" stroke="#000" stroke-width="1.50"/>
<line x1="256.50" y1="570.00" x2="256.50" y2="580.50" stroke="#000" stroke-width="1.50"/>
<line x1="360.00" y1="570.00" x2="360.00" y2="559.50" stroke="#000" stroke-width="1.50"/>
<line x1="360.00" y1="570.00" x2="360.00" y2="580.50" stroke="#000" stroke-width="1.50"/>
<line x1="463.50" y1="570.00" x2="463.50" y2="559.50" stroke="#000" stroke-width="1.50"/>
<line x1="463.50" y1="570.00" x2="463.50" y2="580.50" stroke="#000" stroke-width="1.50"/>
<line x1="153.00" y1="1001.00" x2="153.00" y2="990.50" stroke="#000" stroke-width="1.50"/>
<line x1="256.50" y1="1001.00" x2="256.50" y2="990.50" stroke="#000" stroke-width="1.50"/>
<line x1="360.00" y1="1001.00" x2="360.00" y2="990.50" stroke="#000" stroke-width="1.50"/>
<line x1="463.50" y1="1001.00" x2="463.50" y2="990.50" stroke="#000" stroke-width="1.50"/>
<line x1="117.00" y1="663.90" x2="127.50" y2="663.90" stroke="#000" stroke-width="1.50"/>
<line x1="117.00" y1="764.90" x2="127.50" y2="764.90" stroke="#000" stroke-width="1.50"/>
<line x1="117.00" y1="865.20" x2="127.50" y2="865.20" stroke="#000" stroke-width="1.50"/>
<line x1="117.00" y1="966.00" x2="127.50" y2="966.00" stroke="#000" stroke-width="1.50"/>
<line x1="560.00" y1="663.90" x2="549.50" y2="663.90" stroke="#000" stroke-width="1.50"/>
<line x1="560.00" y1="764.90" x2="549.50" y2="764.90" stroke="#000" stroke-width="1.50"/>
<line x1="560.00" y1="865.20" x2="549.50" y2="865.20" stroke="#000" stroke-width="1.50"/>
<line x1="560.00" y1="966.00" x2="549.50" y2="966.00" stroke="#000" stroke-width="1.50"/>
<line x1="595.90" y1="1001.00" x2="595.90" y2="990.50" stroke="#000" stroke-width="1.50"/>
<line x1="699.30" y1="1001.00" x2="699.30" y2="990.50" stroke="#000" stroke-width="1.50"/>
<line x1="802.50" y1="1001.00" x2="802.50" y2="990.50" stroke="#000" stroke-width="1.50"/>
<line x1="906.00" y1="1001.00" x2="906.00" y2="990.50" stroke="#000" stroke-width="1.50"/>
<line x1="1231.70" y1="570.00" x2="1231.70" y2="559.50" stroke="#000" stroke-width="1.50"/>
<line x1="1231.70" y1="570.00" x2="1231.70" y2="580.50" stroke="#000" stroke-width="1.50"/>
<line x1="1348.50" y1="570.00" x2="1348.50" y2="559.50" stroke="#000" stroke-width="1.50"/>
<line x1="1348.50" y1="570.00" x2="1348.50" y2="580.50" stroke="#000" stroke-width="1.50"/>
<line x1="1464.90" y1="570.00" x2="1464.90" y2="559.50" stroke="#000" stroke-width="1.50"/>
<line x1="1464.90" y1="570.00" x2="1464.90" y2="580.50" stroke="#000" stroke-width="1.50"/>
<line x1="1581.40" y1="570.00" x2="1581.40" y2="559.50" stroke="#000" stroke-width="1.50"/>
<line x1="1581.40" y1="570.00" x2="1581.40" y2="580.50" stroke="#000" stroke-width="1.50"/>
<line x1="1231.70" y1="1001.00" x2="1231.70" y2="990.50" stroke="#000" stroke-width="1.50"/>
<line x1="1348.50" y1="1001.00" x2="1348.50" y2="990.50" stroke="#000" stroke-width="1.50"/>
<line x1="1464.90" y1="1001.00" x2="1464.90" y2="990.50" stroke="#000" stroke-width="1.50"/>
<line x1="1581.40" y1="1001.00" x2="1581.40" y2="990.50" stroke="#000" stroke-width="1.50"/>
<line x1="1147.00" y1="577.60" x2="1157.50" y2="577.60" stroke="#000" stroke-width="1.50"/>
<line x1="1147.00" y1="691.00" x2="1157.50" y2="691.00" stroke="#000" stroke-width="1.50"/>
<line x1="1147.00" y1="804.60" x2="1157.50" y2="804.60" stroke="#000" stroke-width="1.50"/>
<line x1="1147.00" y1="918.20" x2="1157.50" y2="918.20" stroke="#000" stroke-width="1.50"/>
<line x1="1590.00" y1="577.60" x2="1579.50" y2="577.60" stroke="#000" stroke-width="1.50"/>
<line x1="1590.00" y1="691.00" x2="1579.50" y2="691.00" stroke="#000" stroke-width="1.50"/>
<line x1="1590.00" y1="804.60" x2="1579.50" y2="804.60" stroke="#000" stroke-width="1.50"/>
<line x1="1590.00" y1="918.20" x2="1579.50" y2="918.20" stroke="#000" stroke-width="1.50"/>
<line x1="1674.50" y1="1001.00" x2="1674.50" y2="990.50" stroke="#000" stroke-width="1.50"/>
<line x1="1790.80" y1="1001.00" x2="1790.80" y2="990.50" stroke="#000" stroke-width="1.50"/>
<line x1="1907.50" y1="1001.00" x2="1907.50" y2="990.50" stroke="#000" stroke-width="1.50"/>
<line x1="2024.00" y1="1001.00" x2="2024.00" y2="990.50" stroke="#000" stroke-width="1.50"/>
<line x1="360.00" y1="139.00" x2="360.00" y2="570.00" stroke="#ff0000" stroke-width="1.80"/>
<line x1="348.80" y1="139.00" x2="348.80" y2="570.00" stroke="#000" stroke-width="1.70" stroke-dasharray="5.21 2.25"/>
<line x1="359.70" y1="139.00" x2="359.70" y2="570.00" stroke="#000" stroke-width="1.70" stroke-dasharray="5.21 2.25"/>
<line x1="370.30" y1="139.00" x2="370.30" y2="570.00" stroke="#000" stroke-width="1.70" stroke-dasharray="5.21 2.25"/>
<path clip-path="url(#ca1)" d="M288.40,569.22C288.93,569.25 290.54,569.36 291.58,569.39C292.63,569.42 293.64,569.42 294.64,569.39C295.65,569.37 296.63,569.31 297.61,569.24C298.59,569.17 299.56,569.07 300.52,568.96C301.49,568.85 302.45,568.71 303.41,568.57C304.37,568.42 305.33,568.26 306.31,568.09C307.28,567.92 308.25,567.73 309.25,567.54C310.24,567.34 311.24,567.14 312.27,566.93C313.29,566.73 314.34,566.53 315.38,566.29C316.42,566.06 317.48,565.82 318.49,565.52C319.51,565.23 320.52,564.91 321.46,564.51C322.40,564.11 323.31,563.66 324.13,563.12C324.95,562.58 325.70,561.96 326.39,561.28C327.08,560.61 327.71,559.85 328.29,559.07C328.88,558.29 329.40,557.44 329.90,556.58C330.39,555.73 330.84,554.83 331.28,553.94C331.71,553.04 332.11,552.13 332.50,551.22C332.88,550.30 333.24,549.38 333.58,548.45C333.92,547.52 334.24,546.59 334.54,545.65C334.84,544.71 335.11,543.76 335.38,542.81C335.64,541.86 335.88,540.90 336.11,539.93C336.34,538.97 336.55,538.00 336.74,537.03C336.94,536.06 337.12,535.08 337.29,534.10C337.46,533.12 337.62,532.14 337.76,531.15C337.91,530.16 338.04,529.17 338.17,528.17C338.29,527.18 338.41,526.18 338.52,525.19C338.62,524.19 338.72,523.19 338.82,522.18C338.91,521.18 339.00,520.18 339.08,519.17C339.17,518.17 339.25,517.16 339.32,516.15C339.40,515.15 339.48,514.14 339.55,513.13C339.62,512.12 339.69,511.12 339.77,510.11C339.84,509.10 339.91,508.10 339.98,507.09C340.05,506.09 340.12,505.08 340.20,504.08C340.27,503.07 340.34,502.06 340.41,501.06C340.48,500.06 340.55,499.05 340.61,498.05C340.68,497.04 340.75,496.04 340.82,495.03C340.89,494.03 340.96,493.03 341.03,492.02C341.09,491.02 341.16,490.02 341.23,489.01C341.29,488.01 341.36,487.01 341.43,486.01C341.49,485.00 341.56,484.00 341.62,483.00C341.69,482.00 341.76,480.99 341.82,479.99C341.89,478.99 341.95,477.99 342.01,476.99C342.08,475.99 342.14,474.98 342.21,473.98C342.27,472.98 342.33,471.98 342.39,470.98C342.46,469.98 342.52,468.98 342.58,467.98C342.64,466.98 342.71,465.98 342.77,464.98C342.83,463.98 342.89,462.98 342.95,461.98C343.01,460.98 343.07,459.98 343.13,458.98C343.19,457.98 343.25,456.98 343.31,455.98C343.37,454.98 343.43,453.98 343.49,452.98C343.55,451.98 343.61,450.98 343.66,449.98C343.72,448.98 343.78,447.98 343.84,446.98C343.89,445.98 343.95,444.98 344.01,443.98C344.07,442.98 344.12,441.98 344.18,440.98C344.24,439.98 344.29,438.98 344.35,437.99C344.40,436.99 344.46,435.99 344.51,434.99C344.57,433.99 344.62,432.99 344.68,431.99C344.73,430.99 344.79,429.99 344.84,428.99C344.89,427.99 344.95,426.99 345.00,425.99C345.05,424.99 345.11,423.99 345.16,422.99C345.21,422.00 345.27,421.00 345.32,420.00C345.37,419.00 345.42,418.00 345.47,417.00C345.53,416.00 345.58,415.00 345.63,414.00C345.68,413.00 345.73,412.00 345.78,411.00C345.83,410.00 345.88,409.00 345.93,408.00C345.98,407.00 346.03,406.00 346.08,404.99C346.13,403.99 346.18,402.99 346.23,401.99C346.28,400.99 346.33,399.99 346.38,398.99C346.42,397.99 346.47,396.99 346.52,395.99C346.57,394.98 346.62,393.98 346.66,392.98C346.71,391.98 346.76,390.98 346.81,389.97C346.85,388.97 346.90,387.97 346.95,386.97C346.99,385.97 347.04,384.96 347.09,383.96C347.13,382.96 347.18,381.96 347.22,380.95C347.27,379.95 347.32,378.95 347.36,377.94C347.41,376.94 347.45,375.94 347.50,374.93C347.54,373.93 347.59,372.93 347.64,371.93C347.68,370.92 347.73,369.92 347.77,368.92C347.82,367.91 347.86,366.91 347.91,365.91C347.95,364.90 348.00,363.90 348.04,362.89C348.08,361.89 348.13,360.89 348.17,359.88C348.22,358.88 348.26,357.88 348.31,356.87C348.35,355.87 348.40,354.87 348.44,353.86C348.49,352.86 348.53,351.85 348.57,350.85C348.62,349.85 348.66,348.84 348.71,347.84C348.75,346.84 348.80,345.83 348.84,344.83C348.89,343.83 348.93,342.82 348.98,341.82C349.02,340.82 349.07,339.81 349.11,338.81C349.16,337.81 349.20,336.80 349.25,335.80C349.29,334.79 349.34,333.79 349.38,332.79C349.43,331.79 349.47,330.78 349.52,329.78C349.56,328.78 349.61,327.77 349.65,326.77C349.70,325.77 349.75,324.76 349.79,323.76C349.84,322.76 349.88,321.76 349.93,320.75C349.98,319.75 350.02,318.75 350.07,317.75C350.12,316.75 350.16,315.74 350.21,314.74C350.26,313.74 350.31,312.74 350.35,311.74C350.40,310.73 350.45,309.73 350.50,308.73C350.55,307.73 350.59,306.73 350.64,305.73C350.69,304.73 350.74,303.73 350.79,302.72C350.84,301.72 350.89,300.72 350.94,299.72C350.99,298.72 351.04,297.72 351.09,296.72C351.14,295.72 351.19,294.72 351.24,293.72C351.29,292.72 351.34,291.72 351.39,290.73C351.45,289.73 351.50,288.73 351.55,287.73C351.60,286.73 351.65,285.73 351.71,284.73C351.76,283.74 351.81,282.74 351.87,281.74C351.92,280.74 351.98,279.74 352.03,278.75C352.09,277.75 352.14,276.75 352.20,275.75C352.25,274.76 352.31,273.76 352.36,272.76C352.42,271.77 352.47,270.77 352.53,269.77C352.58,268.77 352.64,267.78 352.70,266.78C352.75,265.78 352.81,264.78 352.86,263.79C352.92,262.79 352.98,261.79 353.03,260.79C353.09,259.79 353.14,258.80 353.20,257.80C353.26,256.80 353.31,255.80 353.37,254.80C353.42,253.80 353.48,252.80 353.54,251.80C353.59,250.80 353.65,249.80 353.70,248.80C353.76,247.80 353.81,246.80 353.87,245.80C353.92,244.80 353.98,243.79 354.03,242.79C354.09,241.79 354.14,240.78 354.19,239.78C354.25,238.78 354.30,237.77 354.35,236.76C354.41,235.76 354.46,234.75 354.51,233.75C354.56,232.74 354.61,231.73 354.67,230.72C354.72,229.71 354.77,228.70 354.82,227.69C354.87,226.68 354.92,225.67 354.97,224.66C355.01,223.65 355.06,222.64 355.11,221.62C355.16,220.61 355.21,219.59 355.26,218.58C355.31,217.57 355.36,216.55 355.41,215.54C355.46,214.53 355.51,213.51 355.57,212.50C355.62,211.49 355.68,210.48 355.74,209.47C355.80,208.46 355.87,207.45 355.93,206.45C356.00,205.44 356.07,204.44 356.15,203.44C356.22,202.44 356.30,201.44 356.39,200.45C356.47,199.45 356.56,198.46 356.66,197.47C356.76,196.48 356.86,195.50 356.97,194.52C357.07,193.54 357.19,192.56 357.31,191.59C357.44,190.62 357.56,189.66 357.70,188.70C357.84,187.73 357.99,186.78 358.14,185.83C358.30,184.88 358.47,183.89 358.63,183.00C358.80,182.10 358.99,181.11 359.15,180.46C359.31,179.80 359.46,179.23 359.58,179.08C359.69,178.93 359.76,179.16 359.84,179.58C359.93,179.99 359.98,180.76 360.08,181.57C360.18,182.37 360.30,183.38 360.45,184.40C360.59,185.42 360.77,186.56 360.94,187.68C361.11,188.80 361.30,189.98 361.46,191.12C361.62,192.25 361.78,193.39 361.91,194.48C362.05,195.58 362.17,196.65 362.28,197.70C362.39,198.76 362.48,199.79 362.57,200.81C362.66,201.83 362.74,202.83 362.81,203.82C362.88,204.82 362.94,205.79 363.01,206.77C363.07,207.75 363.12,208.72 363.18,209.69C363.23,210.66 363.28,211.63 363.34,212.61C363.39,213.58 363.44,214.55 363.49,215.53C363.55,216.51 363.60,217.49 363.65,218.47C363.71,219.45 363.76,220.43 363.81,221.42C363.87,222.40 363.92,223.39 363.97,224.38C364.02,225.37 364.08,226.36 364.13,227.35C364.18,228.34 364.24,229.33 364.29,230.33C364.34,231.32 364.40,232.32 364.45,233.31C364.50,234.31 364.56,235.31 364.61,236.31C364.66,237.31 364.72,238.31 364.77,239.31C364.82,240.31 364.88,241.31 364.93,242.31C364.98,243.32 365.04,244.32 365.09,245.33C365.14,246.33 365.20,247.34 365.25,248.34C365.30,249.35 365.36,250.35 365.41,251.36C365.46,252.37 365.52,253.37 365.57,254.38C365.62,255.39 365.68,256.40 365.73,257.40C365.78,258.41 365.84,259.42 365.89,260.43C365.94,261.43 366.00,262.44 366.05,263.45C366.10,264.46 366.16,265.46 366.21,266.47C366.26,267.48 366.32,268.48 366.37,269.49C366.42,270.50 366.48,271.50 366.53,272.51C366.58,273.51 366.64,274.52 366.69,275.52C366.74,276.53 366.80,277.54 366.85,278.54C366.90,279.54 366.96,280.55 367.01,281.55C367.06,282.56 367.12,283.56 367.17,284.56C367.22,285.57 367.28,286.57 367.33,287.58C367.39,288.58 367.44,289.58 367.49,290.58C367.55,291.59 367.60,292.59 367.65,293.59C367.71,294.59 367.76,295.60 367.81,296.60C367.87,297.60 367.92,298.60 367.97,299.60C368.03,300.61 368.08,301.61 368.13,302.61C368.19,303.61 368.24,304.61 368.29,305.61C368.35,306.61 368.40,307.61 368.45,308.62C368.51,309.62 368.56,310.62 368.61,311.62C368.67,312.62 368.72,313.62 368.77,314.62C368.82,315.62 368.88,316.62 368.93,317.62C368.98,318.62 369.04,319.62 369.09,320.62C369.14,321.62 369.20,322.62 369.25,323.62C369.30,324.62 369.36,325.62 369.41,326.62C369.46,327.62 369.52,328.62 369.57,329.62C369.62,330.62 369.68,331.62 369.73,332.62C369.78,333.61 369.83,334.61 369.89,335.61C369.94,336.61 369.99,337.61 370.05,338.61C370.10,339.61 370.15,340.61 370.20,341.61C370.26,342.61 370.31,343.61 370.36,344.61C370.42,345.61 370.47,346.61 370.52,347.61C370.57,348.60 370.63,349.60 370.68,350.60C370.73,351.60 370.79,352.60 370.84,353.60C370.89,354.60 370.94,355.60 371.00,356.60C371.05,357.60 371.10,358.60 371.15,359.60C371.21,360.60 371.26,361.60 371.31,362.60C371.36,363.60 371.42,364.60 371.47,365.60C371.52,366.60 371.57,367.60 371.63,368.60C371.68,369.60 371.73,370.60 371.78,371.60C371.84,372.60 371.89,373.60 371.94,374.60C371.99,375.60 372.05,376.61 372.10,377.61C372.15,378.61 372.20,379.61 372.25,380.61C372.31,381.61 372.36,382.61 372.41,383.61C372.46,384.62 372.52,385.62 372.57,386.62C372.62,387.62 372.67,388.62 372.72,389.63C372.78,390.63 372.83,391.63 372.88,392.63C372.93,393.64 372.98,394.64 373.04,395.64C373.09,396.64 373.14,397.65 373.19,398.65C373.24,399.65 373.30,400.66 373.35,401.66C373.40,402.66 373.45,403.66 373.50,404.67C373.56,405.67 373.61,406.67 373.66,407.68C373.71,408.68 373.77,409.68 373.82,410.69C373.87,411.69 373.92,412.69 373.98,413.70C374.03,414.70 374.08,415.70 374.13,416.71C374.19,417.71 374.24,418.71 374.29,419.72C374.35,420.72 374.40,421.72 374.45,422.73C374.51,423.73 374.56,424.74 374.61,425.74C374.67,426.74 374.72,427.75 374.77,428.75C374.83,429.75 374.88,430.76 374.94,431.76C374.99,432.76 375.04,433.76 375.10,434.77C375.15,435.77 375.21,436.77 375.26,437.78C375.32,438.78 375.37,439.78 375.43,440.79C375.48,441.79 375.54,442.79 375.59,443.79C375.65,444.80 375.70,445.80 375.76,446.80C375.81,447.80 375.87,448.81 375.92,449.81C375.98,450.81 376.04,451.81 376.09,452.81C376.15,453.82 376.21,454.82 376.26,455.82C376.32,456.82 376.38,457.82 376.43,458.82C376.49,459.83 376.55,460.83 376.61,461.83C376.67,462.83 376.72,463.83 376.78,464.83C376.84,465.83 376.90,466.83 376.96,467.83C377.02,468.83 377.08,469.83 377.14,470.83C377.19,471.83 377.25,472.83 377.31,473.83C377.37,474.83 377.44,475.83 377.50,476.83C377.56,477.83 377.62,478.83 377.68,479.82C377.74,480.82 377.80,481.82 377.86,482.82C377.92,483.82 377.99,484.81 378.05,485.81C378.11,486.81 378.17,487.81 378.24,488.80C378.30,489.80 378.36,490.80 378.43,491.79C378.49,492.79 378.56,493.79 378.62,494.78C378.69,495.78 378.75,496.77 378.82,497.77C378.88,498.76 378.95,499.76 379.02,500.75C379.08,501.75 379.15,502.74 379.22,503.74C379.29,504.73 379.36,505.73 379.44,506.72C379.51,507.72 379.59,508.71 379.66,509.71C379.74,510.70 379.82,511.70 379.90,512.69C379.98,513.69 380.07,514.68 380.15,515.68C380.24,516.68 380.33,517.67 380.42,518.67C380.52,519.67 380.61,520.66 380.71,521.66C380.81,522.66 380.92,523.66 381.02,524.66C381.13,525.66 381.24,526.66 381.36,527.66C381.47,528.66 381.59,529.66 381.71,530.66C381.84,531.66 381.96,532.67 382.10,533.67C382.23,534.67 382.37,535.68 382.51,536.68C382.65,537.69 382.80,538.70 382.95,539.71C383.11,540.71 383.27,541.72 383.43,542.73C383.60,543.74 383.77,544.75 383.94,545.77C384.12,546.78 384.30,547.79 384.49,548.81C384.68,549.82 384.87,550.84 385.09,551.85C385.30,552.86 385.52,553.87 385.76,554.85C386.01,555.83 386.27,556.81 386.57,557.74C386.87,558.68 387.19,559.60 387.56,560.48C387.93,561.35 388.33,562.19 388.79,562.98C389.24,563.77 389.73,564.52 390.29,565.21C390.84,565.89 391.44,566.53 392.12,567.09C392.79,567.65 393.52,568.15 394.33,568.56C395.14,568.98 396.01,569.41 396.97,569.58C397.92,569.75 398.96,569.60 400.08,569.60C401.21,569.60 402.41,569.66 403.72,569.60C405.03,569.54 407.24,569.31 407.94,569.26" fill="none" stroke="#0000ff" stroke-width="2.50" stroke-linejoin="round" stroke-linecap="butt"/>
<line x1="802.50" y1="570.00" x2="802.50" y2="1001.00" stroke="#ff0000" stroke-width="1.80"/>
<line x1="773.70" y1="570.00" x2="773.70" y2="1001.00" stroke="#000" stroke-width="1.70" stroke-dasharray="5.21 2.25"/>
<line x1="800.00" y1="570.00" x2="800.00" y2="1001.00" stroke="#000" stroke-width="1.70" stroke-dasharray="5.21 2.25"/>
<line x1="831.40" y1="570.00" x2="831.40" y2="1001.00" stroke="#000" stroke-width="1.70" stroke-dasharray="5.21 2.25"/>
<path clip-path="url(#ca3)" d="M559.84,1000.70C560.33,1000.68 561.82,1000.61 562.82,1000.58C563.81,1000.54 564.81,1000.49 565.80,1000.46C566.80,1000.43 567.80,1000.41 568.80,1000.40C569.80,1000.38 570.80,1000.38 571.80,1000.38C572.80,1000.38 573.80,1000.38 574.80,1000.39C575.81,1000.40 576.81,1000.42 577.81,1000.43C578.82,1000.45 579.82,1000.47 580.83,1000.49C581.83,1000.51 582.84,1000.54 583.84,1000.56C584.85,1000.59 585.85,1000.61 586.86,1000.64C587.86,1000.66 588.87,1000.69 589.87,1000.70C590.88,1000.71 591.88,1000.70 592.89,1000.70C593.89,1000.70 594.90,1000.70 595.90,1000.70C596.91,1000.70 597.91,1000.70 598.92,1000.70C599.92,1000.70 600.92,1000.71 601.93,1000.70C602.93,1000.69 603.93,1000.69 604.93,1000.66C605.93,1000.63 606.93,1000.58 607.93,1000.53C608.93,1000.47 609.93,1000.40 610.93,1000.32C611.92,1000.25 612.92,1000.16 613.91,1000.05C614.91,999.95 615.90,999.83 616.89,999.70C617.89,999.57 618.88,999.43 619.86,999.27C620.85,999.10 621.84,998.93 622.83,998.73C623.81,998.54 624.80,998.33 625.78,998.10C626.76,997.87 627.74,997.61 628.72,997.36C629.70,997.10 630.67,996.82 631.65,996.56C632.63,996.30 633.60,996.03 634.58,995.80C635.55,995.56 636.53,995.34 637.51,995.16C638.48,994.99 639.46,994.84 640.44,994.75C641.42,994.66 642.40,994.62 643.38,994.61C644.37,994.60 645.35,994.63 646.34,994.68C647.32,994.72 648.31,994.80 649.30,994.88C650.29,994.96 651.28,995.06 652.28,995.14C653.27,995.22 654.27,995.31 655.27,995.38C656.26,995.44 657.27,995.49 658.27,995.52C659.27,995.54 660.27,995.54 661.28,995.52C662.28,995.50 663.29,995.46 664.29,995.39C665.30,995.33 666.30,995.24 667.30,995.14C668.31,995.04 669.31,994.92 670.31,994.78C671.30,994.64 672.30,994.48 673.29,994.30C674.28,994.13 675.27,993.93 676.26,993.73C677.24,993.52 678.22,993.30 679.19,993.06C680.16,992.83 681.13,992.58 682.09,992.31C683.05,992.05 684.00,991.77 684.94,991.49C685.89,991.20 686.82,990.90 687.75,990.60C688.67,990.29 689.59,989.97 690.50,989.64C691.41,989.32 692.31,988.98 693.21,988.65C694.11,988.32 695.01,987.99 695.92,987.67C696.83,987.35 697.74,987.02 698.67,986.72C699.60,986.42 700.53,986.13 701.49,985.86C702.46,985.59 703.44,985.34 704.44,985.12C705.45,984.90 706.49,984.71 707.54,984.53C708.59,984.35 709.67,984.20 710.74,984.04C711.82,983.88 712.91,983.73 713.98,983.56C715.06,983.40 716.14,983.23 717.19,983.03C718.24,982.83 719.29,982.61 720.30,982.35C721.30,982.09 722.29,981.80 723.23,981.46C724.17,981.11 725.08,980.72 725.94,980.28C726.81,979.84 727.63,979.35 728.43,978.82C729.22,978.29 729.98,977.72 730.71,977.11C731.43,976.50 732.13,975.85 732.79,975.17C733.46,974.50 734.10,973.78 734.71,973.04C735.32,972.30 735.90,971.53 736.47,970.73C737.03,969.94 737.57,969.12 738.08,968.28C738.60,967.44 739.10,966.58 739.58,965.70C740.06,964.83 740.52,963.93 740.97,963.03C741.42,962.13 741.85,961.21 742.27,960.29C742.70,959.37 743.10,958.44 743.50,957.51C743.91,956.58 744.30,955.65 744.68,954.71C745.06,953.78 745.44,952.84 745.80,951.90C746.17,950.96 746.53,950.02 746.88,949.07C747.23,948.13 747.57,947.18 747.91,946.23C748.25,945.29 748.57,944.34 748.90,943.38C749.22,942.43 749.53,941.48 749.84,940.52C750.14,939.57 750.44,938.61 750.74,937.65C751.03,936.69 751.32,935.73 751.60,934.77C751.88,933.81 752.15,932.85 752.42,931.88C752.69,930.92 752.95,929.95 753.21,928.98C753.46,928.01 753.71,927.05 753.96,926.07C754.20,925.10 754.44,924.13 754.68,923.16C754.91,922.19 755.14,921.21 755.36,920.24C755.59,919.26 755.81,918.28 756.02,917.31C756.24,916.33 756.45,915.35 756.66,914.37C756.86,913.39 757.06,912.41 757.26,911.43C757.46,910.45 757.65,909.46 757.84,908.48C758.03,907.50 758.22,906.51 758.40,905.53C758.59,904.54 758.77,903.56 758.95,902.57C759.12,901.58 759.30,900.60 759.47,899.61C759.64,898.62 759.81,897.63 759.97,896.64C760.14,895.66 760.30,894.67 760.46,893.68C760.62,892.69 760.78,891.70 760.94,890.71C761.10,889.72 761.25,888.73 761.41,887.73C761.56,886.74 761.71,885.75 761.86,884.76C762.01,883.77 762.16,882.78 762.31,881.79C762.46,880.79 762.60,879.80 762.75,878.81C762.89,877.82 763.03,876.82 763.17,875.83C763.32,874.84 763.46,873.84 763.59,872.85C763.73,871.86 763.87,870.86 764.00,869.87C764.14,868.88 764.27,867.88 764.41,866.89C764.54,865.89 764.67,864.90 764.80,863.91C764.93,862.91 765.06,861.92 765.19,860.92C765.32,859.93 765.44,858.93 765.57,857.94C765.70,856.94 765.82,855.95 765.94,854.95C766.07,853.95 766.19,852.96 766.31,851.96C766.43,850.97 766.55,849.97 766.67,848.97C766.79,847.98 766.91,846.98 767.02,845.99C767.14,844.99 767.26,843.99 767.37,843.00C767.49,842.00 767.60,841.00 767.71,840.01C767.83,839.01 767.94,838.01 768.05,837.02C768.16,836.02 768.27,835.02 768.38,834.02C768.49,833.03 768.60,832.03 768.71,831.03C768.82,830.04 768.93,829.04 769.03,828.04C769.14,827.04 769.25,826.05 769.35,825.05C769.46,824.05 769.56,823.05 769.67,822.05C769.77,821.06 769.87,820.06 769.98,819.06C770.08,818.06 770.18,817.07 770.28,816.07C770.39,815.07 770.49,814.07 770.59,813.07C770.69,812.08 770.79,811.08 770.89,810.08C770.99,809.08 771.09,808.09 771.19,807.09C771.29,806.09 771.39,805.09 771.49,804.09C771.58,803.10 771.68,802.10 771.78,801.10C771.88,800.10 771.98,799.11 772.07,798.11C772.17,797.11 772.27,796.11 772.37,795.11C772.46,794.12 772.56,793.12 772.66,792.12C772.75,791.12 772.85,790.13 772.95,789.13C773.04,788.13 773.14,787.13 773.24,786.14C773.33,785.14 773.43,784.14 773.53,783.15C773.62,782.15 773.72,781.15 773.81,780.16C773.91,779.16 774.01,778.16 774.10,777.16C774.20,776.17 774.30,775.17 774.39,774.18C774.49,773.18 774.59,772.18 774.68,771.19C774.78,770.19 774.88,769.19 774.98,768.20C775.07,767.20 775.17,766.21 775.27,765.21C775.37,764.22 775.47,763.22 775.56,762.22C775.66,761.23 775.76,760.23 775.86,759.24C775.96,758.24 776.06,757.25 776.16,756.25C776.26,755.26 776.36,754.27 776.46,753.27C776.56,752.28 776.67,751.28 776.77,750.29C776.87,749.29 776.97,748.30 777.08,747.31C777.18,746.31 777.28,745.32 777.39,744.33C777.49,743.33 777.59,742.34 777.70,741.35C777.80,740.35 777.91,739.36 778.01,738.37C778.12,737.38 778.22,736.38 778.33,735.39C778.44,734.40 778.54,733.40 778.65,732.41C778.76,731.42 778.86,730.42 778.97,729.43C779.08,728.44 779.19,727.45 779.29,726.45C779.40,725.46 779.51,724.46 779.62,723.47C779.72,722.48 779.83,721.48 779.94,720.49C780.05,719.50 780.16,718.50 780.27,717.51C780.37,716.51 780.48,715.52 780.59,714.52C780.70,713.53 780.81,712.53 780.92,711.54C781.03,710.54 781.14,709.55 781.24,708.55C781.35,707.55 781.46,706.56 781.57,705.56C781.68,704.57 781.79,703.57 781.90,702.57C782.01,701.57 782.12,700.57 782.22,699.58C782.33,698.58 782.44,697.58 782.55,696.58C782.66,695.58 782.77,694.58 782.87,693.58C782.98,692.58 783.09,691.58 783.20,690.58C783.30,689.58 783.41,688.57 783.52,687.57C783.63,686.57 783.73,685.56 783.84,684.56C783.94,683.56 784.05,682.55 784.16,681.55C784.26,680.54 784.37,679.54 784.47,678.53C784.58,677.52 784.68,676.52 784.79,675.51C784.90,674.50 785.00,673.49 785.11,672.49C785.22,671.48 785.32,670.47 785.43,669.46C785.54,668.45 785.65,667.45 785.76,666.44C785.87,665.43 785.99,664.43 786.10,663.42C786.22,662.42 786.33,661.41 786.46,660.41C786.58,659.40 786.70,658.40 786.82,657.40C786.95,656.40 787.08,655.40 787.21,654.40C787.34,653.40 787.48,652.40 787.62,651.41C787.76,650.41 787.90,649.42 788.05,648.43C788.20,647.43 788.35,646.44 788.51,645.46C788.66,644.47 788.82,643.48 788.99,642.50C789.16,641.52 789.33,640.54 789.51,639.56C789.69,638.59 789.87,637.61 790.06,636.64C790.25,635.67 790.44,634.70 790.65,633.74C790.85,632.77 791.06,631.81 791.27,630.85C791.49,629.90 791.71,628.94 791.94,627.99C792.18,627.04 792.41,626.09 792.66,625.15C792.91,624.21 793.16,623.27 793.42,622.34C793.68,621.40 793.95,620.48 794.23,619.55C794.51,618.63 794.80,617.71 795.10,616.79C795.40,615.88 795.70,614.95 796.02,614.06C796.34,613.18 796.65,612.18 797.02,611.48C797.38,610.79 797.76,610.12 798.21,609.89C798.65,609.66 799.18,609.76 799.67,610.10C800.17,610.43 800.71,611.11 801.18,611.91C801.66,612.70 802.11,613.77 802.52,614.86C802.94,615.95 803.32,617.23 803.67,618.43C804.02,619.63 804.33,620.92 804.62,622.08C804.91,623.23 805.16,624.32 805.39,625.37C805.63,626.41 805.84,627.37 806.04,628.34C806.24,629.30 806.43,630.22 806.61,631.17C806.80,632.11 806.98,633.05 807.16,634.00C807.34,634.95 807.51,635.90 807.69,636.86C807.86,637.82 808.03,638.78 808.20,639.75C808.36,640.72 808.53,641.69 808.69,642.66C808.86,643.63 809.02,644.61 809.18,645.59C809.33,646.57 809.49,647.55 809.65,648.54C809.80,649.52 809.96,650.51 810.11,651.50C810.26,652.48 810.41,653.47 810.56,654.47C810.71,655.46 810.86,656.45 811.01,657.45C811.16,658.44 811.31,659.44 811.45,660.43C811.60,661.43 811.75,662.42 811.89,663.42C812.04,664.42 812.19,665.41 812.33,666.41C812.48,667.40 812.62,668.40 812.77,669.39C812.92,670.39 813.06,671.39 813.21,672.38C813.35,673.38 813.50,674.37 813.64,675.37C813.79,676.36 813.93,677.36 814.08,678.35C814.22,679.35 814.37,680.34 814.51,681.34C814.66,682.33 814.80,683.32 814.94,684.32C815.09,685.31 815.23,686.31 815.37,687.30C815.52,688.30 815.66,689.29 815.80,690.28C815.94,691.28 816.08,692.27 816.23,693.27C816.37,694.26 816.51,695.25 816.65,696.25C816.79,697.24 816.93,698.24 817.07,699.23C817.21,700.22 817.34,701.22 817.48,702.21C817.62,703.20 817.76,704.20 817.89,705.19C818.03,706.19 818.17,707.18 818.30,708.17C818.44,709.17 818.57,710.16 818.71,711.15C818.84,712.15 818.98,713.14 819.11,714.14C819.24,715.13 819.37,716.12 819.51,717.12C819.64,718.11 819.77,719.10 819.90,720.10C820.03,721.09 820.16,722.08 820.29,723.08C820.41,724.07 820.54,725.07 820.67,726.06C820.79,727.05 820.92,728.05 821.05,729.04C821.17,730.04 821.29,731.03 821.42,732.02C821.54,733.02 821.66,734.01 821.78,735.01C821.91,736.00 822.03,737.00 822.15,737.99C822.27,738.98 822.38,739.98 822.50,740.97C822.62,741.97 822.74,742.96 822.86,743.96C822.97,744.95 823.09,745.95 823.21,746.94C823.32,747.94 823.44,748.93 823.55,749.93C823.67,750.92 823.78,751.91 823.89,752.91C824.01,753.90 824.12,754.90 824.24,755.89C824.35,756.89 824.46,757.88 824.57,758.88C824.69,759.87 824.80,760.87 824.91,761.86C825.02,762.86 825.13,763.85 825.25,764.85C825.36,765.84 825.47,766.84 825.58,767.83C825.69,768.83 825.80,769.82 825.91,770.82C826.02,771.81 826.13,772.81 826.24,773.80C826.36,774.80 826.47,775.79 826.58,776.79C826.69,777.78 826.80,778.78 826.91,779.77C827.02,780.77 827.13,781.76 827.24,782.76C827.35,783.75 827.47,784.75 827.58,785.74C827.69,786.74 827.80,787.73 827.91,788.73C828.03,789.72 828.14,790.71 828.25,791.71C828.36,792.70 828.48,793.70 828.59,794.69C828.71,795.69 828.82,796.68 828.93,797.68C829.05,798.67 829.16,799.67 829.28,800.66C829.40,801.65 829.51,802.65 829.63,803.64C829.75,804.64 829.86,805.63 829.98,806.63C830.10,807.62 830.22,808.61 830.34,809.61C830.46,810.60 830.58,811.60 830.70,812.59C830.82,813.58 830.94,814.58 831.06,815.57C831.19,816.57 831.31,817.56 831.43,818.55C831.56,819.55 831.68,820.54 831.81,821.53C831.94,822.53 832.06,823.52 832.19,824.51C832.32,825.51 832.45,826.50 832.58,827.49C832.71,828.49 832.84,829.48 832.98,830.47C833.11,831.46 833.24,832.46 833.38,833.45C833.51,834.44 833.65,835.43 833.79,836.43C833.93,837.42 834.06,838.41 834.20,839.40C834.35,840.40 834.49,841.39 834.63,842.38C834.77,843.37 834.92,844.36 835.06,845.36C835.21,846.35 835.36,847.34 835.51,848.33C835.65,849.32 835.80,850.31 835.96,851.30C836.11,852.30 836.26,853.29 836.42,854.28C836.57,855.27 836.73,856.26 836.89,857.25C837.05,858.24 837.21,859.23 837.37,860.22C837.53,861.21 837.70,862.20 837.86,863.19C838.03,864.18 838.20,865.17 838.37,866.16C838.53,867.15 838.71,868.14 838.88,869.13C839.05,870.12 839.23,871.11 839.41,872.10C839.58,873.09 839.76,874.07 839.94,875.06C840.13,876.05 840.31,877.04 840.49,878.03C840.68,879.02 840.87,880.00 841.06,880.99C841.25,881.98 841.44,882.97 841.64,883.95C841.83,884.94 842.03,885.92 842.23,886.91C842.43,887.89 842.64,888.88 842.84,889.86C843.05,890.85 843.26,891.83 843.47,892.81C843.68,893.80 843.90,894.78 844.12,895.76C844.34,896.74 844.56,897.72 844.78,898.70C845.00,899.68 845.23,900.66 845.46,901.63C845.69,902.61 845.93,903.59 846.17,904.56C846.40,905.54 846.65,906.51 846.89,907.48C847.13,908.46 847.38,909.43 847.64,910.40C847.89,911.37 848.14,912.34 848.40,913.30C848.66,914.27 848.93,915.24 849.19,916.20C849.46,917.17 849.73,918.13 850.01,919.09C850.29,920.06 850.56,921.02 850.85,921.97C851.13,922.93 851.42,923.89 851.71,924.85C852.01,925.80 852.30,926.76 852.61,927.71C852.91,928.66 853.21,929.61 853.53,930.56C853.84,931.51 854.15,932.45 854.47,933.40C854.79,934.34 855.12,935.28 855.45,936.22C855.78,937.16 856.11,938.10 856.45,939.04C856.79,939.97 857.14,940.91 857.49,941.84C857.84,942.77 858.20,943.70 858.56,944.63C858.92,945.56 859.29,946.48 859.66,947.40C860.04,948.32 860.42,949.24 860.82,950.15C861.21,951.06 861.61,951.97 862.02,952.88C862.44,953.78 862.86,954.68 863.29,955.58C863.73,956.47 864.17,957.36 864.63,958.24C865.09,959.12 865.56,960.00 866.05,960.87C866.53,961.74 867.03,962.60 867.55,963.46C868.06,964.31 868.59,965.16 869.14,966.00C869.69,966.84 870.26,967.68 870.84,968.50C871.42,969.32 872.03,970.14 872.65,970.94C873.27,971.75 873.91,972.55 874.57,973.33C875.23,974.11 875.91,974.88 876.60,975.64C877.30,976.39 878.01,977.13 878.74,977.85C879.48,978.57 880.22,979.28 880.99,979.96C881.75,980.64 882.53,981.30 883.33,981.93C884.12,982.56 884.93,983.17 885.76,983.75C886.58,984.33 887.42,984.88 888.28,985.40C889.13,985.92 889.99,986.41 890.87,986.86C891.75,987.32 892.64,987.74 893.55,988.12C894.45,988.50 895.37,988.85 896.29,989.15C897.22,989.45 898.16,989.71 899.10,989.94C900.05,990.17 901.01,990.35 901.97,990.50C902.94,990.66 903.91,990.78 904.89,990.88C905.87,990.98 906.86,991.05 907.85,991.10C908.84,991.16 909.84,991.19 910.84,991.21C911.84,991.23 912.85,991.24 913.86,991.24C914.87,991.24 915.88,991.23 916.89,991.22C917.90,991.21 918.92,991.20 919.93,991.20C920.94,991.19 921.96,991.19 922.97,991.20C923.98,991.21 924.99,991.23 926.00,991.27C927.00,991.31 928.01,991.36 929.01,991.43C930.01,991.50 931.01,991.58 932.01,991.67C933.00,991.77 934.00,991.88 934.99,992.00C935.98,992.12 936.97,992.26 937.96,992.40C938.95,992.55 939.94,992.70 940.92,992.87C941.91,993.03 942.89,993.21 943.87,993.39C944.85,993.57 945.83,993.76 946.81,993.96C947.79,994.16 948.77,994.36 949.75,994.58C950.73,994.79 951.70,995.00 952.68,995.23C953.66,995.45 954.63,995.68 955.61,995.90C956.58,996.13 957.56,996.37 958.54,996.59C959.51,996.82 960.49,997.05 961.46,997.28C962.44,997.50 963.42,997.72 964.39,997.92C965.37,998.13 966.35,998.33 967.33,998.52C968.31,998.70 969.30,998.88 970.28,999.03C971.26,999.19 972.25,999.33 973.24,999.45C974.23,999.57 975.22,999.67 976.21,999.74C977.21,999.82 978.20,999.87 979.20,999.89C980.20,999.92 981.21,999.91 982.21,999.89C983.22,999.87 984.22,999.83 985.23,999.78C986.24,999.73 987.25,999.66 988.26,999.60C989.27,999.53 990.28,999.46 991.29,999.39C992.29,999.33 993.30,999.26 994.31,999.21C995.31,999.16 996.32,999.11 997.32,999.09C998.32,999.08 999.31,999.07 1000.31,999.09C1001.30,999.12 1002.78,999.22 1003.28,999.25" fill="none" stroke="#0000ff" stroke-width="2.50" stroke-linejoin="round" stroke-linecap="butt"/>
<line x1="1348.60" y1="139.00" x2="1348.60" y2="570.00" stroke="#ff0000" stroke-width="1.80"/>
<line x1="1308.00" y1="139.00" x2="1308.00" y2="570.00" stroke="#000" stroke-width="1.70" stroke-dasharray="5.21 2.25"/>
<line x1="1346.80" y1="139.00" x2="1346.80" y2="570.00" stroke="#000" stroke-width="1.70" stroke-dasharray="5.21 2.25"/>
<line x1="1388.50" y1="139.00" x2="1388.50" y2="570.00" stroke="#000" stroke-width="1.70" stroke-dasharray="5.21 2.25"/>
<path clip-path="url(#cb1)" d="M1146.95,569.48C1147.47,569.50 1149.04,569.57 1150.08,569.61C1151.12,569.65 1152.16,569.68 1153.19,569.70C1154.23,569.72 1155.25,569.70 1156.28,569.70C1157.30,569.70 1158.32,569.70 1159.34,569.70C1160.36,569.70 1161.37,569.70 1162.38,569.70C1163.39,569.70 1164.40,569.70 1165.40,569.70C1166.40,569.70 1167.41,569.70 1168.40,569.70C1169.40,569.70 1170.40,569.71 1171.39,569.70C1172.38,569.69 1173.37,569.69 1174.36,569.66C1175.35,569.63 1176.34,569.58 1177.32,569.53C1178.31,569.48 1179.29,569.43 1180.27,569.37C1181.26,569.31 1182.24,569.24 1183.22,569.17C1184.20,569.09 1185.17,569.02 1186.15,568.93C1187.13,568.85 1188.11,568.76 1189.08,568.66C1190.06,568.56 1191.04,568.46 1192.01,568.35C1192.99,568.24 1193.97,568.12 1194.94,568.00C1195.92,567.87 1196.89,567.74 1197.87,567.61C1198.85,567.47 1199.83,567.33 1200.81,567.18C1201.78,567.03 1202.76,566.87 1203.74,566.70C1204.72,566.54 1205.71,566.37 1206.69,566.19C1207.67,566.01 1208.66,565.82 1209.64,565.63C1210.63,565.43 1211.62,565.23 1212.61,565.02C1213.60,564.81 1214.59,564.60 1215.59,564.37C1216.58,564.15 1217.58,563.92 1218.58,563.67C1219.58,563.43 1220.58,563.18 1221.58,562.92C1222.58,562.66 1223.58,562.39 1224.58,562.11C1225.57,561.83 1226.57,561.53 1227.55,561.23C1228.54,560.92 1229.53,560.60 1230.50,560.26C1231.47,559.92 1232.44,559.57 1233.39,559.20C1234.35,558.83 1235.30,558.45 1236.23,558.05C1237.16,557.64 1238.08,557.22 1238.99,556.78C1239.89,556.33 1240.78,555.87 1241.66,555.39C1242.53,554.90 1243.38,554.40 1244.22,553.87C1245.05,553.34 1245.87,552.79 1246.67,552.21C1247.46,551.64 1248.23,551.03 1248.98,550.41C1249.73,549.78 1250.45,549.13 1251.16,548.45C1251.86,547.78 1252.55,547.08 1253.21,546.36C1253.88,545.65 1254.52,544.91 1255.15,544.15C1255.78,543.40 1256.38,542.62 1256.98,541.84C1257.57,541.05 1258.14,540.24 1258.70,539.43C1259.26,538.61 1259.81,537.77 1260.34,536.93C1260.87,536.09 1261.39,535.24 1261.89,534.37C1262.40,533.51 1262.89,532.64 1263.38,531.76C1263.86,530.88 1264.33,529.99 1264.79,529.11C1265.26,528.22 1265.71,527.32 1266.16,526.42C1266.60,525.53 1267.04,524.63 1267.47,523.72C1267.90,522.82 1268.32,521.91 1268.74,521.01C1269.15,520.10 1269.56,519.19 1269.96,518.27C1270.36,517.36 1270.75,516.45 1271.14,515.53C1271.52,514.61 1271.90,513.69 1272.27,512.76C1272.64,511.84 1273.01,510.91 1273.36,509.99C1273.72,509.06 1274.07,508.13 1274.42,507.20C1274.76,506.26 1275.10,505.33 1275.43,504.39C1275.76,503.45 1276.09,502.51 1276.41,501.57C1276.73,500.63 1277.04,499.69 1277.35,498.74C1277.66,497.80 1277.96,496.85 1278.25,495.90C1278.55,494.95 1278.84,494.00 1279.12,493.05C1279.41,492.09 1279.69,491.14 1279.96,490.18C1280.24,489.23 1280.51,488.27 1280.77,487.31C1281.04,486.35 1281.29,485.39 1281.55,484.42C1281.80,483.46 1282.05,482.49 1282.30,481.53C1282.54,480.56 1282.79,479.59 1283.02,478.62C1283.26,477.65 1283.49,476.68 1283.72,475.71C1283.95,474.74 1284.17,473.77 1284.39,472.79C1284.61,471.82 1284.83,470.84 1285.04,469.86C1285.25,468.89 1285.46,467.91 1285.67,466.93C1285.87,465.95 1286.08,464.97 1286.27,463.99C1286.47,463.01 1286.67,462.02 1286.86,461.04C1287.06,460.06 1287.25,459.07 1287.43,458.09C1287.62,457.10 1287.80,456.11 1287.99,455.13C1288.17,454.14 1288.35,453.15 1288.52,452.16C1288.70,451.18 1288.87,450.19 1289.05,449.20C1289.22,448.21 1289.39,447.22 1289.56,446.23C1289.73,445.24 1289.89,444.25 1290.06,443.25C1290.22,442.26 1290.39,441.27 1290.55,440.28C1290.71,439.28 1290.87,438.29 1291.03,437.30C1291.19,436.31 1291.35,435.31 1291.50,434.32C1291.66,433.32 1291.82,432.33 1291.97,431.34C1292.13,430.34 1292.28,429.35 1292.43,428.36C1292.59,427.36 1292.74,426.37 1292.89,425.37C1293.05,424.38 1293.20,423.39 1293.35,422.39C1293.50,421.40 1293.65,420.40 1293.81,419.41C1293.96,418.42 1294.11,417.42 1294.26,416.43C1294.42,415.44 1294.57,414.45 1294.72,413.45C1294.88,412.46 1295.03,411.47 1295.18,410.48C1295.34,409.49 1295.49,408.50 1295.65,407.51C1295.81,406.51 1295.96,405.52 1296.12,404.54C1296.28,403.55 1296.44,402.56 1296.60,401.57C1296.76,400.58 1296.92,399.59 1297.08,398.60C1297.24,397.62 1297.40,396.63 1297.56,395.64C1297.73,394.66 1297.89,393.67 1298.05,392.68C1298.22,391.70 1298.38,390.71 1298.54,389.73C1298.71,388.74 1298.87,387.76 1299.04,386.77C1299.21,385.79 1299.37,384.80 1299.54,383.82C1299.71,382.83 1299.88,381.85 1300.04,380.87C1300.21,379.88 1300.38,378.90 1300.55,377.92C1300.72,376.93 1300.89,375.95 1301.06,374.97C1301.23,373.98 1301.40,373.00 1301.57,372.02C1301.74,371.04 1301.91,370.06 1302.08,369.07C1302.25,368.09 1302.42,367.11 1302.60,366.13C1302.77,365.15 1302.94,364.16 1303.11,363.18C1303.28,362.20 1303.46,361.22 1303.63,360.24C1303.80,359.26 1303.98,358.28 1304.15,357.30C1304.32,356.31 1304.50,355.33 1304.67,354.35C1304.84,353.37 1305.02,352.39 1305.19,351.41C1305.37,350.43 1305.54,349.45 1305.71,348.46C1305.89,347.48 1306.06,346.50 1306.24,345.52C1306.41,344.54 1306.58,343.56 1306.76,342.58C1306.93,341.60 1307.11,340.61 1307.28,339.63C1307.45,338.65 1307.63,337.67 1307.80,336.69C1307.97,335.70 1308.15,334.72 1308.32,333.74C1308.50,332.76 1308.67,331.78 1308.84,330.79C1309.02,329.81 1309.19,328.83 1309.36,327.84C1309.53,326.86 1309.71,325.88 1309.88,324.89C1310.05,323.91 1310.22,322.93 1310.40,321.94C1310.57,320.96 1310.74,319.97 1310.91,318.99C1311.08,318.00 1311.25,317.02 1311.42,316.03C1311.59,315.05 1311.76,314.06 1311.93,313.08C1312.10,312.09 1312.27,311.11 1312.44,310.12C1312.61,309.13 1312.78,308.14 1312.95,307.16C1313.11,306.17 1313.28,305.18 1313.45,304.19C1313.62,303.20 1313.78,302.22 1313.95,301.23C1314.11,300.24 1314.28,299.25 1314.44,298.26C1314.61,297.27 1314.77,296.28 1314.94,295.28C1315.10,294.29 1315.26,293.30 1315.42,292.31C1315.59,291.32 1315.75,290.32 1315.91,289.33C1316.07,288.34 1316.23,287.34 1316.39,286.35C1316.55,285.35 1316.70,284.36 1316.86,283.36C1317.02,282.37 1317.18,281.37 1317.33,280.37C1317.49,279.38 1317.65,278.38 1317.80,277.38C1317.96,276.39 1318.12,275.39 1318.27,274.39C1318.43,273.40 1318.59,272.40 1318.74,271.40C1318.90,270.41 1319.06,269.41 1319.21,268.42C1319.37,267.42 1319.53,266.43 1319.69,265.43C1319.85,264.44 1320.01,263.44 1320.17,262.45C1320.33,261.46 1320.49,260.46 1320.65,259.47C1320.81,258.48 1320.98,257.49 1321.14,256.50C1321.31,255.51 1321.47,254.53 1321.64,253.54C1321.81,252.55 1321.98,251.57 1322.15,250.58C1322.32,249.60 1322.49,248.62 1322.66,247.64C1322.84,246.66 1323.02,245.68 1323.19,244.70C1323.37,243.73 1323.55,242.75 1323.74,241.78C1323.92,240.81 1324.10,239.83 1324.29,238.87C1324.48,237.90 1324.67,236.93 1324.86,235.97C1325.06,235.00 1325.25,234.04 1325.45,233.08C1325.65,232.12 1325.85,231.17 1326.06,230.21C1326.27,229.26 1326.47,228.31 1326.69,227.36C1326.90,226.41 1327.11,225.47 1327.33,224.53C1327.55,223.58 1327.77,222.64 1328.00,221.70C1328.22,220.75 1328.45,219.81 1328.69,218.87C1328.92,217.92 1329.16,216.97 1329.40,216.02C1329.64,215.07 1329.89,214.12 1330.14,213.15C1330.39,212.19 1330.64,211.23 1330.90,210.25C1331.16,209.28 1331.42,208.30 1331.69,207.30C1331.95,206.31 1332.22,205.32 1332.50,204.30C1332.78,203.29 1333.06,202.27 1333.34,201.24C1333.63,200.20 1333.92,199.16 1334.21,198.10C1334.51,197.04 1334.80,195.95 1335.11,194.88C1335.42,193.81 1335.74,192.71 1336.07,191.66C1336.41,190.61 1336.75,189.56 1337.13,188.57C1337.50,187.59 1337.89,186.62 1338.31,185.73C1338.73,184.85 1339.18,184.00 1339.66,183.26C1340.15,182.52 1340.66,181.85 1341.22,181.29C1341.78,180.74 1342.38,180.26 1343.02,179.94C1343.67,179.61 1344.39,179.37 1345.10,179.32C1345.82,179.28 1346.63,179.35 1347.33,179.66C1348.03,179.97 1348.71,180.53 1349.33,181.18C1349.94,181.83 1350.50,182.70 1351.01,183.55C1351.52,184.40 1351.98,185.35 1352.41,186.28C1352.83,187.21 1353.21,188.17 1353.56,189.14C1353.92,190.11 1354.23,191.10 1354.53,192.09C1354.82,193.08 1355.09,194.09 1355.35,195.09C1355.61,196.10 1355.84,197.11 1356.08,198.11C1356.32,199.12 1356.54,200.12 1356.77,201.12C1356.99,202.12 1357.21,203.12 1357.42,204.11C1357.64,205.11 1357.85,206.10 1358.06,207.09C1358.26,208.08 1358.47,209.06 1358.67,210.05C1358.87,211.03 1359.06,212.01 1359.26,212.99C1359.45,213.97 1359.64,214.95 1359.83,215.93C1360.02,216.91 1360.21,217.88 1360.40,218.86C1360.58,219.83 1360.77,220.81 1360.95,221.78C1361.13,222.76 1361.32,223.73 1361.50,224.71C1361.68,225.68 1361.86,226.66 1362.05,227.63C1362.23,228.61 1362.41,229.59 1362.59,230.56C1362.78,231.54 1362.96,232.52 1363.14,233.49C1363.32,234.47 1363.51,235.45 1363.69,236.43C1363.87,237.41 1364.05,238.39 1364.24,239.37C1364.42,240.35 1364.60,241.32 1364.79,242.30C1364.97,243.29 1365.15,244.27 1365.34,245.25C1365.52,246.23 1365.71,247.21 1365.89,248.19C1366.07,249.17 1366.26,250.15 1366.44,251.13C1366.63,252.12 1366.81,253.10 1367.00,254.08C1367.19,255.06 1367.37,256.04 1367.56,257.03C1367.74,258.01 1367.93,258.99 1368.12,259.98C1368.31,260.96 1368.49,261.94 1368.68,262.92C1368.87,263.91 1369.06,264.89 1369.25,265.87C1369.43,266.86 1369.62,267.84 1369.81,268.82C1370.00,269.81 1370.19,270.79 1370.38,271.77C1370.58,272.76 1370.77,273.74 1370.96,274.72C1371.15,275.71 1371.34,276.69 1371.54,277.67C1371.73,278.66 1371.92,279.64 1372.12,280.62C1372.31,281.61 1372.51,282.59 1372.70,283.57C1372.90,284.56 1373.09,285.54 1373.29,286.52C1373.49,287.50 1373.69,288.49 1373.89,289.47C1374.08,290.45 1374.28,291.43 1374.48,292.41C1374.68,293.40 1374.88,294.38 1375.09,295.36C1375.29,296.34 1375.49,297.32 1375.69,298.30C1375.90,299.28 1376.10,300.26 1376.30,301.24C1376.51,302.22 1376.71,303.20 1376.92,304.18C1377.13,305.16 1377.33,306.14 1377.54,307.12C1377.75,308.10 1377.96,309.08 1378.16,310.06C1378.37,311.04 1378.58,312.02 1378.79,312.99C1379.00,313.97 1379.21,314.95 1379.42,315.93C1379.64,316.91 1379.85,317.88 1380.06,318.86C1380.27,319.84 1380.49,320.82 1380.70,321.79C1380.91,322.77 1381.13,323.75 1381.34,324.73C1381.56,325.70 1381.77,326.68 1381.99,327.66C1382.20,328.63 1382.42,329.61 1382.64,330.59C1382.85,331.56 1383.07,332.54 1383.29,333.51C1383.51,334.49 1383.72,335.47 1383.94,336.44C1384.16,337.42 1384.38,338.39 1384.60,339.37C1384.82,340.34 1385.04,341.32 1385.26,342.30C1385.48,343.27 1385.70,344.25 1385.93,345.22C1386.15,346.20 1386.37,347.17 1386.59,348.15C1386.81,349.12 1387.04,350.09 1387.26,351.07C1387.48,352.04 1387.71,353.02 1387.93,353.99C1388.15,354.97 1388.38,355.94 1388.60,356.92C1388.83,357.89 1389.05,358.86 1389.27,359.84C1389.50,360.81 1389.72,361.79 1389.95,362.76C1390.18,363.73 1390.40,364.71 1390.63,365.68C1390.85,366.66 1391.08,367.63 1391.31,368.60C1391.53,369.58 1391.76,370.55 1391.99,371.52C1392.21,372.50 1392.44,373.47 1392.67,374.44C1392.90,375.42 1393.12,376.39 1393.35,377.37C1393.58,378.34 1393.81,379.31 1394.03,380.29C1394.26,381.26 1394.49,382.23 1394.72,383.21C1394.95,384.18 1395.18,385.15 1395.40,386.13C1395.63,387.10 1395.86,388.07 1396.09,389.05C1396.32,390.02 1396.55,390.99 1396.78,391.97C1397.01,392.94 1397.23,393.91 1397.46,394.89C1397.69,395.86 1397.92,396.83 1398.15,397.81C1398.38,398.78 1398.61,399.76 1398.84,400.73C1399.07,401.70 1399.29,402.68 1399.52,403.65C1399.75,404.62 1399.98,405.60 1400.21,406.57C1400.44,407.54 1400.67,408.52 1400.90,409.49C1401.13,410.47 1401.35,411.44 1401.58,412.41C1401.81,413.39 1402.04,414.36 1402.27,415.34C1402.50,416.31 1402.72,417.29 1402.95,418.26C1403.18,419.23 1403.41,420.21 1403.64,421.18C1403.87,422.16 1404.09,423.13 1404.32,424.11C1404.55,425.08 1404.78,426.06 1405.00,427.03C1405.23,428.01 1405.46,428.98 1405.69,429.95C1405.91,430.93 1406.14,431.90 1406.37,432.88C1406.59,433.85 1406.82,434.83 1407.05,435.80C1407.27,436.78 1407.50,437.75 1407.73,438.73C1407.95,439.70 1408.18,440.68 1408.41,441.65C1408.63,442.63 1408.86,443.60 1409.08,444.58C1409.31,445.56 1409.54,446.53 1409.76,447.51C1409.99,448.48 1410.21,449.46 1410.44,450.43C1410.66,451.41 1410.89,452.38 1411.11,453.36C1411.34,454.33 1411.56,455.31 1411.79,456.28C1412.01,457.26 1412.24,458.23 1412.46,459.21C1412.68,460.18 1412.91,461.16 1413.13,462.14C1413.36,463.11 1413.58,464.09 1413.80,465.06C1414.03,466.04 1414.25,467.01 1414.47,467.99C1414.70,468.96 1414.92,469.94 1415.14,470.91C1415.36,471.89 1415.59,472.86 1415.81,473.84C1416.03,474.81 1416.25,475.79 1416.48,476.77C1416.70,477.74 1416.92,478.72 1417.14,479.69C1417.36,480.67 1417.58,481.64 1417.81,482.62C1418.03,483.59 1418.25,484.56 1418.48,485.54C1418.70,486.51 1418.93,487.49 1419.16,488.46C1419.39,489.43 1419.62,490.40 1419.85,491.38C1420.08,492.35 1420.32,493.32 1420.55,494.29C1420.79,495.26 1421.03,496.23 1421.28,497.20C1421.52,498.16 1421.77,499.13 1422.02,500.10C1422.27,501.06 1422.53,502.03 1422.79,502.99C1423.05,503.96 1423.31,504.92 1423.58,505.88C1423.85,506.84 1424.12,507.80 1424.40,508.76C1424.68,509.72 1424.96,510.67 1425.26,511.63C1425.55,512.58 1425.84,513.53 1426.15,514.49C1426.45,515.44 1426.76,516.39 1427.08,517.33C1427.39,518.28 1427.72,519.23 1428.05,520.17C1428.38,521.11 1428.72,522.06 1429.07,522.99C1429.41,523.93 1429.77,524.87 1430.13,525.80C1430.50,526.74 1430.87,527.67 1431.25,528.60C1431.63,529.53 1432.02,530.46 1432.42,531.38C1432.82,532.31 1433.23,533.23 1433.65,534.15C1434.07,535.06 1434.50,535.98 1434.94,536.89C1435.39,537.80 1435.84,538.71 1436.30,539.61C1436.77,540.50 1437.25,541.40 1437.74,542.27C1438.24,543.15 1438.75,544.02 1439.27,544.88C1439.80,545.73 1440.34,546.58 1440.90,547.40C1441.45,548.23 1442.03,549.04 1442.63,549.83C1443.22,550.62 1443.84,551.39 1444.47,552.14C1445.11,552.89 1445.76,553.62 1446.44,554.32C1447.12,555.03 1447.82,555.71 1448.55,556.36C1449.28,557.01 1450.02,557.64 1450.80,558.24C1451.58,558.83 1452.38,559.40 1453.20,559.93C1454.03,560.47 1454.88,560.97 1455.75,561.45C1456.62,561.93 1457.52,562.37 1458.42,562.79C1459.33,563.21 1460.26,563.61 1461.20,563.98C1462.15,564.35 1463.10,564.69 1464.07,565.01C1465.04,565.33 1466.01,565.62 1467.00,565.90C1467.98,566.17 1468.98,566.42 1469.97,566.66C1470.97,566.89 1471.97,567.10 1472.97,567.29C1473.97,567.48 1474.97,567.66 1475.97,567.82C1476.97,567.97 1477.96,568.11 1478.95,568.24C1479.95,568.36 1480.94,568.47 1481.93,568.57C1482.92,568.67 1483.91,568.75 1484.89,568.83C1485.88,568.90 1486.87,568.96 1487.86,569.02C1488.84,569.07 1489.83,569.11 1490.82,569.15C1491.80,569.19 1492.79,569.22 1493.78,569.24C1494.77,569.27 1495.76,569.29 1496.75,569.30C1497.74,569.32 1498.73,569.33 1499.73,569.35C1500.72,569.36 1501.72,569.37 1502.72,569.38C1503.72,569.40 1504.73,569.41 1505.73,569.42C1506.74,569.43 1507.74,569.45 1508.75,569.46C1509.76,569.47 1510.76,569.48 1511.77,569.49C1512.78,569.50 1513.79,569.51 1514.80,569.51C1515.81,569.52 1516.82,569.53 1517.82,569.53C1518.83,569.54 1519.84,569.54 1520.84,569.54C1521.84,569.55 1522.85,569.55 1523.85,569.55C1524.85,569.54 1525.85,569.54 1526.84,569.53C1527.83,569.53 1528.82,569.52 1529.81,569.51C1530.80,569.50 1532.27,569.47 1532.76,569.47" fill="none" stroke="#0000ff" stroke-width="2.50" stroke-linejoin="round" stroke-linecap="butt"/>
<line x1="1790.70" y1="570.00" x2="1790.70" y2="1001.00" stroke="#ff0000" stroke-width="1.80"/>
<line x1="1753.80" y1="570.00" x2="1753.80" y2="1001.00" stroke="#000" stroke-width="1.70" stroke-dasharray="5.21 2.25"/>
<line x1="1788.00" y1="570.00" x2="1788.00" y2="1001.00" stroke="#000" stroke-width="1.70" stroke-dasharray="5.21 2.25"/>
<line x1="1828.10" y1="570.00" x2="1828.10" y2="1001.00" stroke="#000" stroke-width="1.70" stroke-dasharray="5.21 2.25"/>
<path clip-path="url(#cb3)" d="M1589.71,998.81C1590.23,998.93 1591.81,999.37 1592.86,999.52C1593.90,999.66 1594.93,999.67 1595.96,999.70C1596.99,999.73 1598.01,999.70 1599.02,999.70C1600.04,999.70 1601.05,999.70 1602.05,999.70C1603.05,999.70 1604.05,999.70 1605.05,999.70C1606.04,999.70 1607.03,999.77 1608.01,999.69C1609.00,999.60 1609.98,999.38 1610.95,999.19C1611.93,999.00 1612.90,998.79 1613.87,998.56C1614.84,998.34 1615.81,998.09 1616.77,997.83C1617.74,997.57 1618.70,997.29 1619.66,997.01C1620.62,996.72 1621.58,996.42 1622.53,996.12C1623.49,995.82 1624.45,995.50 1625.40,995.18C1626.36,994.87 1627.31,994.54 1628.26,994.22C1629.22,993.90 1630.17,993.57 1631.12,993.25C1632.08,992.93 1633.03,992.61 1633.99,992.30C1634.94,991.99 1635.90,991.68 1636.86,991.38C1637.82,991.09 1638.78,990.80 1639.74,990.52C1640.70,990.25 1641.67,989.98 1642.63,989.74C1643.60,989.49 1644.57,989.26 1645.54,989.05C1646.52,988.84 1647.49,988.65 1648.48,988.48C1649.46,988.32 1650.44,988.17 1651.43,988.05C1652.42,987.92 1653.41,987.82 1654.40,987.72C1655.40,987.63 1656.40,987.55 1657.39,987.48C1658.39,987.40 1659.39,987.34 1660.39,987.28C1661.39,987.22 1662.39,987.16 1663.39,987.10C1664.39,987.03 1665.39,986.97 1666.39,986.89C1667.39,986.82 1668.39,986.74 1669.38,986.64C1670.38,986.54 1671.37,986.44 1672.36,986.30C1673.35,986.17 1674.34,986.03 1675.32,985.85C1676.30,985.67 1677.28,985.47 1678.26,985.24C1679.23,985.01 1680.20,984.75 1681.16,984.47C1682.12,984.18 1683.08,983.86 1684.03,983.52C1684.97,983.18 1685.92,982.81 1686.85,982.42C1687.77,982.03 1688.70,981.61 1689.60,981.17C1690.51,980.73 1691.41,980.26 1692.30,979.78C1693.18,979.29 1694.05,978.78 1694.91,978.25C1695.77,977.73 1696.61,977.18 1697.44,976.61C1698.26,976.04 1699.08,975.45 1699.87,974.85C1700.66,974.25 1701.44,973.62 1702.19,972.99C1702.95,972.35 1703.69,971.70 1704.41,971.03C1705.13,970.36 1705.83,969.68 1706.51,968.98C1707.19,968.28 1707.86,967.57 1708.51,966.84C1709.16,966.11 1709.79,965.37 1710.41,964.62C1711.02,963.86 1711.62,963.10 1712.20,962.32C1712.79,961.54 1713.36,960.75 1713.91,959.95C1714.47,959.14 1715.00,958.33 1715.53,957.50C1716.05,956.68 1716.56,955.84 1717.06,955.00C1717.56,954.15 1718.04,953.29 1718.51,952.43C1718.98,951.56 1719.44,950.69 1719.89,949.80C1720.33,948.92 1720.77,948.03 1721.19,947.13C1721.61,946.23 1722.02,945.32 1722.42,944.40C1722.83,943.49 1723.21,942.56 1723.59,941.64C1723.97,940.71 1724.34,939.77 1724.70,938.83C1725.07,937.89 1725.42,936.94 1725.76,935.99C1726.10,935.04 1726.44,934.08 1726.76,933.12C1727.09,932.16 1727.41,931.19 1727.72,930.22C1728.03,929.25 1728.33,928.28 1728.63,927.30C1728.92,926.33 1729.21,925.35 1729.50,924.37C1729.78,923.39 1730.06,922.40 1730.34,921.42C1730.61,920.44 1730.88,919.45 1731.14,918.46C1731.40,917.48 1731.66,916.49 1731.92,915.50C1732.17,914.52 1732.43,913.53 1732.67,912.55C1732.92,911.56 1733.17,910.57 1733.41,909.59C1733.65,908.60 1733.89,907.62 1734.12,906.63C1734.36,905.65 1734.59,904.67 1734.82,903.68C1735.05,902.70 1735.27,901.72 1735.50,900.73C1735.72,899.75 1735.94,898.77 1736.16,897.78C1736.37,896.80 1736.59,895.82 1736.80,894.84C1737.01,893.85 1737.22,892.87 1737.42,891.89C1737.63,890.91 1737.83,889.93 1738.03,888.95C1738.23,887.96 1738.43,886.98 1738.63,886.00C1738.82,885.02 1739.02,884.04 1739.21,883.06C1739.40,882.08 1739.59,881.10 1739.78,880.11C1739.96,879.13 1740.15,878.15 1740.33,877.17C1740.51,876.19 1740.69,875.21 1740.87,874.23C1741.05,873.25 1741.23,872.27 1741.40,871.29C1741.58,870.31 1741.75,869.33 1741.92,868.34C1742.09,867.36 1742.26,866.38 1742.43,865.40C1742.60,864.42 1742.76,863.44 1742.93,862.46C1743.09,861.47 1743.26,860.49 1743.42,859.51C1743.58,858.53 1743.74,857.55 1743.90,856.56C1744.06,855.58 1744.22,854.60 1744.38,853.62C1744.53,852.63 1744.69,851.65 1744.85,850.67C1745.00,849.68 1745.16,848.70 1745.31,847.72C1745.46,846.73 1745.61,845.75 1745.77,844.76C1745.92,843.78 1746.07,842.79 1746.22,841.81C1746.37,840.82 1746.52,839.84 1746.67,838.85C1746.81,837.86 1746.96,836.88 1747.11,835.89C1747.26,834.91 1747.40,833.92 1747.55,832.93C1747.69,831.94 1747.84,830.96 1747.98,829.97C1748.12,828.98 1748.27,827.99 1748.41,827.01C1748.55,826.02 1748.69,825.03 1748.84,824.04C1748.98,823.05 1749.12,822.06 1749.26,821.07C1749.40,820.08 1749.54,819.09 1749.67,818.10C1749.81,817.11 1749.95,816.12 1750.09,815.13C1750.23,814.14 1750.36,813.15 1750.50,812.16C1750.64,811.17 1750.77,810.18 1750.91,809.19C1751.04,808.20 1751.18,807.21 1751.31,806.21C1751.44,805.22 1751.58,804.23 1751.71,803.24C1751.84,802.25 1751.98,801.25 1752.11,800.26C1752.24,799.27 1752.37,798.28 1752.50,797.28C1752.64,796.29 1752.77,795.30 1752.90,794.30C1753.03,793.31 1753.16,792.32 1753.29,791.32C1753.42,790.33 1753.55,789.34 1753.67,788.34C1753.80,787.35 1753.93,786.35 1754.06,785.36C1754.19,784.37 1754.32,783.37 1754.44,782.38C1754.57,781.38 1754.70,780.39 1754.83,779.39C1754.95,778.40 1755.08,777.40 1755.21,776.41C1755.33,775.41 1755.46,774.42 1755.58,773.42C1755.71,772.43 1755.84,771.43 1755.96,770.44C1756.09,769.44 1756.21,768.45 1756.34,767.45C1756.46,766.46 1756.59,765.46 1756.71,764.46C1756.83,763.47 1756.96,762.47 1757.08,761.48C1757.21,760.48 1757.33,759.48 1757.46,758.49C1757.58,757.49 1757.70,756.50 1757.83,755.50C1757.95,754.50 1758.08,753.51 1758.20,752.51C1758.32,751.51 1758.45,750.52 1758.57,749.52C1758.69,748.53 1758.82,747.53 1758.94,746.53C1759.06,745.54 1759.19,744.54 1759.31,743.54C1759.43,742.55 1759.56,741.55 1759.68,740.55C1759.80,739.56 1759.93,738.56 1760.05,737.56C1760.17,736.57 1760.30,735.57 1760.42,734.57C1760.55,733.58 1760.67,732.58 1760.79,731.59C1760.92,730.59 1761.04,729.59 1761.16,728.60C1761.29,727.60 1761.41,726.60 1761.54,725.61C1761.66,724.61 1761.79,723.61 1761.91,722.62C1762.04,721.62 1762.16,720.62 1762.29,719.63C1762.41,718.63 1762.54,717.64 1762.66,716.64C1762.79,715.64 1762.91,714.65 1763.04,713.65C1763.16,712.66 1763.29,711.66 1763.42,710.66C1763.54,709.67 1763.67,708.67 1763.80,707.68C1763.92,706.68 1764.05,705.69 1764.18,704.69C1764.31,703.70 1764.43,702.70 1764.56,701.71C1764.69,700.71 1764.82,699.72 1764.95,698.72C1765.08,697.73 1765.21,696.73 1765.34,695.74C1765.47,694.74 1765.60,693.75 1765.73,692.76C1765.86,691.76 1766.00,690.77 1766.13,689.78C1766.26,688.78 1766.40,687.79 1766.53,686.80C1766.67,685.81 1766.80,684.82 1766.94,683.83C1767.07,682.83 1767.21,681.84 1767.35,680.85C1767.49,679.86 1767.63,678.88 1767.77,677.89C1767.91,676.90 1768.05,675.91 1768.19,674.92C1768.33,673.93 1768.47,672.95 1768.62,671.96C1768.76,670.98 1768.91,669.99 1769.05,669.01C1769.20,668.02 1769.35,667.04 1769.50,666.05C1769.65,665.07 1769.80,664.09 1769.95,663.11C1770.10,662.13 1770.25,661.14 1770.41,660.16C1770.56,659.19 1770.72,658.21 1770.88,657.23C1771.03,656.25 1771.19,655.27 1771.35,654.30C1771.51,653.32 1771.67,652.35 1771.84,651.37C1772.00,650.40 1772.17,649.43 1772.33,648.45C1772.50,647.48 1772.67,646.51 1772.84,645.54C1773.01,644.57 1773.18,643.61 1773.36,642.64C1773.53,641.67 1773.71,640.71 1773.89,639.74C1774.06,638.77 1774.24,637.81 1774.43,636.84C1774.61,635.87 1774.79,634.90 1774.98,633.90C1775.17,632.91 1775.36,631.91 1775.55,630.88C1775.75,629.85 1775.95,628.81 1776.15,627.73C1776.35,626.65 1776.55,625.53 1776.77,624.41C1776.98,623.29 1777.19,622.11 1777.45,620.98C1777.70,619.86 1777.96,618.72 1778.28,617.68C1778.59,616.64 1778.94,615.62 1779.35,614.74C1779.76,613.86 1780.22,613.04 1780.76,612.40C1781.30,611.77 1781.91,611.23 1782.60,610.91C1783.28,610.59 1784.10,610.44 1784.85,610.48C1785.60,610.52 1786.43,610.78 1787.12,611.15C1787.80,611.53 1788.42,612.09 1788.95,612.72C1789.48,613.35 1789.92,614.12 1790.32,614.93C1790.72,615.75 1791.04,616.67 1791.36,617.60C1791.68,618.53 1791.94,619.54 1792.21,620.52C1792.49,621.50 1792.75,622.50 1793.01,623.49C1793.27,624.48 1793.53,625.47 1793.79,626.46C1794.05,627.46 1794.30,628.45 1794.55,629.44C1794.80,630.43 1795.05,631.42 1795.30,632.41C1795.54,633.40 1795.78,634.39 1796.03,635.38C1796.27,636.37 1796.50,637.36 1796.74,638.35C1796.97,639.34 1797.21,640.33 1797.44,641.32C1797.67,642.31 1797.90,643.29 1798.12,644.28C1798.35,645.27 1798.57,646.26 1798.79,647.25C1799.01,648.24 1799.23,649.23 1799.45,650.22C1799.67,651.20 1799.88,652.19 1800.09,653.18C1800.30,654.17 1800.51,655.16 1800.72,656.15C1800.93,657.13 1801.14,658.12 1801.34,659.11C1801.54,660.10 1801.75,661.09 1801.95,662.07C1802.15,663.06 1802.34,664.05 1802.54,665.04C1802.74,666.02 1802.93,667.01 1803.12,668.00C1803.32,668.99 1803.51,669.97 1803.70,670.96C1803.89,671.95 1804.07,672.93 1804.26,673.92C1804.45,674.91 1804.63,675.90 1804.81,676.88C1805.00,677.87 1805.18,678.86 1805.36,679.84C1805.54,680.83 1805.71,681.82 1805.89,682.80C1806.07,683.79 1806.24,684.78 1806.42,685.76C1806.59,686.75 1806.77,687.74 1806.94,688.72C1807.11,689.71 1807.28,690.70 1807.45,691.68C1807.62,692.67 1807.79,693.65 1807.95,694.64C1808.12,695.63 1808.28,696.61 1808.45,697.60C1808.61,698.59 1808.78,699.57 1808.94,700.56C1809.10,701.54 1809.27,702.53 1809.43,703.52C1809.59,704.50 1809.75,705.49 1809.91,706.48C1810.07,707.46 1810.22,708.45 1810.38,709.43C1810.54,710.42 1810.70,711.41 1810.85,712.39C1811.01,713.38 1811.16,714.37 1811.32,715.35C1811.47,716.34 1811.63,717.32 1811.78,718.31C1811.94,719.30 1812.09,720.28 1812.24,721.27C1812.40,722.26 1812.55,723.24 1812.70,724.23C1812.85,725.21 1813.01,726.20 1813.16,727.19C1813.31,728.17 1813.46,729.16 1813.61,730.15C1813.76,731.13 1813.91,732.12 1814.06,733.11C1814.21,734.09 1814.37,735.08 1814.52,736.07C1814.67,737.05 1814.82,738.04 1814.97,739.03C1815.12,740.01 1815.27,741.00 1815.42,741.99C1815.57,742.98 1815.72,743.96 1815.87,744.95C1816.02,745.94 1816.17,746.92 1816.32,747.91C1816.48,748.90 1816.63,749.89 1816.78,750.87C1816.93,751.86 1817.08,752.85 1817.23,753.84C1817.39,754.82 1817.54,755.81 1817.69,756.80C1817.84,757.79 1818.00,758.78 1818.15,759.76C1818.30,760.75 1818.46,761.74 1818.61,762.73C1818.77,763.72 1818.92,764.70 1819.07,765.69C1819.23,766.68 1819.38,767.67 1819.54,768.66C1819.70,769.64 1819.85,770.63 1820.01,771.62C1820.16,772.61 1820.32,773.60 1820.48,774.59C1820.64,775.57 1820.79,776.56 1820.95,777.55C1821.11,778.54 1821.27,779.53 1821.43,780.52C1821.59,781.50 1821.74,782.49 1821.90,783.48C1822.06,784.47 1822.22,785.46 1822.39,786.44C1822.55,787.43 1822.71,788.42 1822.87,789.41C1823.03,790.40 1823.19,791.39 1823.36,792.37C1823.52,793.36 1823.68,794.35 1823.85,795.34C1824.01,796.33 1824.18,797.32 1824.34,798.30C1824.51,799.29 1824.67,800.28 1824.84,801.27C1825.01,802.26 1825.18,803.24 1825.34,804.23C1825.51,805.22 1825.68,806.21 1825.85,807.20C1826.02,808.18 1826.19,809.17 1826.36,810.16C1826.53,811.15 1826.70,812.13 1826.87,813.12C1827.04,814.11 1827.22,815.10 1827.39,816.08C1827.56,817.07 1827.74,818.06 1827.91,819.05C1828.09,820.03 1828.26,821.02 1828.44,822.01C1828.62,822.99 1828.79,823.98 1828.97,824.97C1829.15,825.95 1829.33,826.94 1829.51,827.93C1829.69,828.91 1829.87,829.90 1830.05,830.89C1830.23,831.87 1830.41,832.86 1830.60,833.84C1830.78,834.83 1830.96,835.82 1831.15,836.80C1831.33,837.79 1831.52,838.77 1831.71,839.76C1831.89,840.74 1832.08,841.73 1832.27,842.72C1832.46,843.70 1832.65,844.69 1832.84,845.67C1833.03,846.66 1833.22,847.64 1833.41,848.62C1833.60,849.61 1833.80,850.59 1833.99,851.58C1834.19,852.56 1834.38,853.55 1834.58,854.53C1834.77,855.51 1834.97,856.50 1835.17,857.48C1835.37,858.46 1835.57,859.45 1835.77,860.43C1835.97,861.41 1836.17,862.40 1836.37,863.38C1836.58,864.36 1836.78,865.34 1836.99,866.33C1837.19,867.31 1837.40,868.29 1837.60,869.27C1837.81,870.26 1838.02,871.24 1838.23,872.22C1838.44,873.20 1838.65,874.18 1838.86,875.16C1839.07,876.14 1839.28,877.12 1839.50,878.10C1839.71,879.08 1839.93,880.06 1840.14,881.04C1840.36,882.02 1840.58,883.00 1840.80,883.98C1841.02,884.96 1841.24,885.94 1841.46,886.92C1841.68,887.90 1841.90,888.88 1842.13,889.86C1842.35,890.84 1842.58,891.81 1842.81,892.79C1843.03,893.77 1843.26,894.74 1843.50,895.72C1843.73,896.70 1843.97,897.67 1844.21,898.64C1844.44,899.62 1844.69,900.59 1844.93,901.56C1845.18,902.53 1845.42,903.50 1845.68,904.47C1845.93,905.44 1846.19,906.41 1846.45,907.38C1846.71,908.34 1846.97,909.31 1847.24,910.27C1847.52,911.23 1847.79,912.19 1848.07,913.15C1848.35,914.11 1848.64,915.06 1848.93,916.02C1849.22,916.97 1849.52,917.92 1849.82,918.87C1850.13,919.82 1850.44,920.77 1850.75,921.71C1851.07,922.66 1851.39,923.60 1851.72,924.54C1852.05,925.48 1852.39,926.41 1852.74,927.35C1853.08,928.28 1853.44,929.21 1853.80,930.14C1854.16,931.06 1854.53,931.99 1854.90,932.91C1855.28,933.82 1855.67,934.74 1856.06,935.65C1856.46,936.57 1856.86,937.48 1857.28,938.38C1857.69,939.29 1858.11,940.19 1858.55,941.09C1858.98,941.98 1859.42,942.88 1859.88,943.77C1860.33,944.65 1860.79,945.54 1861.27,946.42C1861.74,947.30 1862.23,948.18 1862.73,949.05C1863.22,949.92 1863.73,950.79 1864.25,951.65C1864.77,952.51 1865.30,953.37 1865.85,954.22C1866.39,955.07 1866.95,955.91 1867.51,956.75C1868.08,957.58 1868.66,958.41 1869.26,959.23C1869.85,960.04 1870.46,960.85 1871.08,961.64C1871.70,962.43 1872.34,963.21 1872.99,963.98C1873.64,964.74 1874.30,965.49 1874.98,966.22C1875.65,966.96 1876.34,967.67 1877.05,968.37C1877.76,969.06 1878.48,969.74 1879.22,970.40C1879.96,971.05 1880.71,971.69 1881.48,972.30C1882.25,972.91 1883.03,973.50 1883.83,974.06C1884.64,974.62 1885.45,975.16 1886.29,975.67C1887.12,976.18 1887.97,976.66 1888.84,977.13C1889.70,977.59 1890.58,978.02 1891.48,978.44C1892.37,978.86 1893.27,979.26 1894.19,979.64C1895.10,980.02 1896.03,980.39 1896.96,980.74C1897.90,981.09 1898.84,981.43 1899.79,981.76C1900.74,982.09 1901.70,982.40 1902.66,982.72C1903.63,983.03 1904.60,983.33 1905.57,983.63C1906.54,983.93 1907.51,984.23 1908.48,984.53C1909.46,984.82 1910.44,985.12 1911.41,985.42C1912.39,985.72 1913.36,986.02 1914.33,986.33C1915.31,986.63 1916.28,986.95 1917.25,987.26C1918.21,987.58 1919.18,987.90 1920.14,988.22C1921.11,988.55 1922.07,988.87 1923.03,989.20C1924.00,989.53 1924.96,989.85 1925.91,990.18C1926.87,990.51 1927.83,990.83 1928.79,991.16C1929.75,991.48 1930.70,991.80 1931.66,992.12C1932.62,992.44 1933.57,992.76 1934.53,993.06C1935.48,993.37 1936.44,993.68 1937.40,993.98C1938.35,994.27 1939.31,994.56 1940.26,994.85C1941.22,995.13 1942.18,995.41 1943.14,995.67C1944.10,995.93 1945.05,996.19 1946.01,996.43C1946.97,996.68 1947.94,996.91 1948.90,997.13C1949.86,997.35 1950.83,997.56 1951.79,997.75C1952.76,997.94 1953.73,998.12 1954.70,998.28C1955.67,998.45 1956.64,998.60 1957.61,998.72C1958.59,998.85 1959.56,998.97 1960.54,999.06C1961.52,999.15 1962.50,999.23 1963.49,999.28C1964.47,999.34 1965.46,999.37 1966.45,999.38C1967.45,999.40 1968.44,999.39 1969.44,999.35C1970.44,999.32 1971.44,999.27 1972.44,999.20C1973.45,999.13 1974.46,999.04 1975.47,998.95C1976.47,998.85 1977.48,998.74 1978.50,998.62C1979.51,998.50 1980.52,998.37 1981.53,998.25C1982.55,998.12 1983.56,997.98 1984.58,997.86C1985.59,997.73 1986.60,997.59 1987.62,997.47C1988.63,997.35 1989.64,997.23 1990.65,997.12C1991.66,997.02 1992.67,996.92 1993.67,996.84C1994.68,996.76 1995.68,996.69 1996.68,996.64C1997.68,996.60 1998.68,996.57 1999.68,996.56C2000.67,996.56 2001.66,996.58 2002.65,996.62C2003.63,996.65 2004.62,996.71 2005.60,996.79C2006.58,996.86 2007.57,996.95 2008.55,997.05C2009.53,997.15 2010.51,997.26 2011.49,997.38C2012.47,997.50 2013.45,997.63 2014.43,997.75C2015.41,997.88 2016.40,998.02 2017.38,998.15C2018.37,998.28 2019.36,998.41 2020.35,998.54C2021.34,998.66 2022.34,998.79 2023.34,998.90C2024.34,999.01 2025.34,999.11 2026.35,999.20C2027.36,999.29 2028.37,999.37 2029.40,999.43C2030.42,999.49 2031.97,999.53 2032.48,999.55" fill="none" stroke="#0000ff" stroke-width="2.50" stroke-linejoin="round" stroke-linecap="butt"/>
<path d="M354.20,761.40L365.40,772.60M354.20,772.60L365.40,761.40" stroke="#000" stroke-width="2.00" fill="none"/>
<path d="M1341.50,802.80L1352.70,814.00M1341.50,814.00L1352.70,802.80" stroke="#000" stroke-width="2.00" fill="none"/>
<line x1="359.90" y1="570.00" x2="359.90" y2="1001.00" stroke="#ff0000" stroke-width="1.70" stroke-dasharray="5.21 2.25"/>
<line x1="117.00" y1="764.90" x2="560.00" y2="764.90" stroke="#ff0000" stroke-width="1.70" stroke-dasharray="5.21 2.25"/>
<line x1="1348.50" y1="570.00" x2="1348.50" y2="1001.00" stroke="#ff0000" stroke-width="1.70" stroke-dasharray="5.21 2.25"/>
<line x1="1147.00" y1="804.70" x2="1590.00" y2="804.70" stroke="#ff0000" stroke-width="1.70" stroke-dasharray="5.21 2.25"/>
<rect x="117.00" y="139.00" width="443.00" height="431.00" fill="none" stroke="#000" stroke-width="2.00"/>
<rect x="117.00" y="570.00" width="443.00" height="431.00" fill="none" stroke="#000" stroke-width="2.00"/>
<rect x="560.00" y="570.00" width="443.00" height="431.00" fill="none" stroke="#000" stroke-width="2.00"/>
<rect x="1147.00" y="139.00" width="443.00" height="431.00" fill="none" stroke="#000" stroke-width="2.00"/>
<rect x="1147.00" y="570.00" width="443.00" height="431.00" fill="none" stroke="#000" stroke-width="2.00"/>
<rect x="1590.00" y="570.00" width="442.00" height="431.00" fill="none" stroke="#000" stroke-width="2.00"/>
<text x="153.00" y="1020.70" font-family="'DejaVu Sans','Liberation Sans',sans-serif" font-size="17.85px" text-anchor="middle" stroke="#000" stroke-width="0.45">−0.12</text>
<text x="256.50" y="1020.70" font-family="'DejaVu Sans','Liberation Sans',sans-serif" font-size="17.85px" text-anchor="middle" stroke="#000" stroke-width="0.45">−0.06</text>
<text x="360.00" y="1020.70" font-family="'DejaVu Sans','Liberation Sans',sans-serif" font-size="17.85px" text-anchor="middle" stroke="#000" stroke-width="0.45">0.00</text>
<text x="463.50" y="1020.70" font-family="'DejaVu Sans','Liberation Sans',sans-serif" font-size="17.85px" text-anchor="middle" stroke="#000" stroke-width="0.45">0.06</text>
<text x="595.90" y="1020.70" font-family="'DejaVu Sans','Liberation Sans',sans-serif" font-size="17.85px" text-anchor="middle" stroke="#000" stroke-width="0.45">−0.12</text>
<text x="699.30" y="1020.70" font-family="'DejaVu Sans','Liberation Sans',sans-serif" font-size="17.85px" text-anchor="middle" stroke="#000" stroke-width="0.45">−0.06</text>
<text x="802.50" y="1020.70" font-family="'DejaVu Sans','Liberation Sans',sans-serif" font-size="17.85px" text-anchor="middle" stroke="#000" stroke-width="0.45">0.00</text>
<text x="906.00" y="1020.70" font-family="'DejaVu Sans','Liberation Sans',sans-serif" font-size="17.85px" text-anchor="middle" stroke="#000" stroke-width="0.45">0.06</text>
<text x="111.40" y="670.90" font-family="'DejaVu Sans','Liberation Sans',sans-serif" font-size="17.85px" text-anchor="end" stroke="#000" stroke-width="0.45">0.06</text>
<text x="111.40" y="771.90" font-family="'DejaVu Sans','Liberation Sans',sans-serif" font-size="17.85px" text-anchor="end" stroke="#000" stroke-width="0.45">0.00</text>
<text x="111.40" y="872.20" font-family="'DejaVu Sans','Liberation Sans',sans-serif" font-size="17.85px" text-anchor="end" stroke="#000" stroke-width="0.45">−0.06</text>
<text x="111.40" y="973.00" font-family="'DejaVu Sans','Liberation Sans',sans-serif" font-size="17.85px" text-anchor="end" stroke="#000" stroke-width="0.45">−0.12</text>
<text x="1231.70" y="1020.70" font-family="'DejaVu Sans','Liberation Sans',sans-serif" font-size="17.85px" text-anchor="middle" stroke="#000" stroke-width="0.45">−0.2</text>
<text x="1348.50" y="1020.70" font-family="'DejaVu Sans','Liberation Sans',sans-serif" font-size="17.85px" text-anchor="middle" stroke="#000" stroke-width="0.45">0.0</text>
<text x="1464.90" y="1020.70" font-family="'DejaVu Sans','Liberation Sans',sans-serif" font-size="17.85px" text-anchor="middle" stroke="#000" stroke-width="0.45">0.2</text>
<text x="1581.40" y="1020.70" font-family="'DejaVu Sans','Liberation Sans',sans-serif" font-size="17.85px" text-anchor="middle" stroke="#000" stroke-width="0.45">0.4</text>
<text x="1674.50" y="1020.70" font-family="'DejaVu Sans','Liberation Sans',sans-serif" font-size="17.85px" text-anchor="middle" stroke="#000" stroke-width="0.45">−0.2</text>
<text x="1790.80" y="1020.70" font-family="'DejaVu Sans','Liberation Sans',sans-serif" font-size="17.85px" text-anchor="middle" stroke="#000" stroke-width="0.45">0.0</text>
<text x="1907.50" y="1020.70" font-family="'DejaVu Sans','Liberation Sans',sans-serif" font-size="17.85px" text-anchor="middle" stroke="#000" stroke-width="0.45">0.2</text>
<text x="2024.00" y="1020.70" font-family="'DejaVu Sans','Liberation Sans',sans-serif" font-size="17.85px" text-anchor="middle" stroke="#000" stroke-width="0.45">0.4</text>
<text x="1141.00" y="584.40" font-family="'DejaVu Sans','Liberation Sans',sans-serif" font-size="17.85px" text-anchor="end" stroke="#000" stroke-width="0.45">0.4</text>
<text x="1141.00" y="697.80" font-family="'DejaVu Sans','Liberation Sans',sans-serif" font-size="17.85px" text-anchor="end" stroke="#000" stroke-width="0.45">0.2</text>
<text x="1141.00" y="811.40" font-family="'DejaVu Sans','Liberation Sans',sans-serif" font-size="17.85px" text-anchor="end" stroke="#000" stroke-width="0.45">0.0</text>
<text x="1141.00" y="925.00" font-family="'DejaVu Sans','Liberation Sans',sans-serif" font-size="17.85px" text-anchor="end" stroke="#000" stroke-width="0.45">−0.2</text>
<text x="338.20" y="1048.80" font-family="'DejaVu Sans','Liberation Sans',sans-serif" font-size="23.20px" text-anchor="middle" stroke="#000" stroke-width="0.45">Fractional error of log<tspan font-size="16.24px" dy="3.70">10</tspan><tspan dy="-3.70" dx="1.00">&#8203;</tspan>(T<tspan font-size="16.24px" dy="3.70">vir</tspan><tspan dy="-3.70" dx="1.00">&#8203;</tspan>)[K]</text>
<text x="781.20" y="1048.80" font-family="'DejaVu Sans','Liberation Sans',sans-serif" font-size="23.20px" text-anchor="middle" stroke="#000" stroke-width="0.45">Fractional error of log<tspan font-size="16.24px" dy="3.70">10</tspan><tspan dy="-3.70" dx="4.50">&#8203;</tspan>ζ</text>
<text x="1367.90" y="1048.80" font-family="'DejaVu Sans','Liberation Sans',sans-serif" font-size="23.20px" text-anchor="middle" stroke="#000" stroke-width="0.45">Fractional error of T<tspan font-size="16.24px" dy="3.70">vir</tspan><tspan dy="-3.70" dx="1.00">&#8203;</tspan>[K]</text>
<text x="1810.80" y="1048.80" font-family="'DejaVu Sans','Liberation Sans',sans-serif" font-size="23.20px" text-anchor="middle" stroke="#000" stroke-width="0.45">Fractional error of ζ</text>
<text x="0.00" y="0.00" font-family="'DejaVu Sans','Liberation Sans',sans-serif" font-size="23.20px" text-anchor="middle" transform="translate(44.7,787.2) rotate(-90)" stroke="#000" stroke-width="0.45">Fractional error of log<tspan font-size="16.24px" dy="3.70">10</tspan><tspan dy="-3.70" dx="4.50">&#8203;</tspan>ζ</text>
<text x="0.00" y="0.00" font-family="'DejaVu Sans','Liberation Sans',sans-serif" font-size="23.20px" text-anchor="middle" transform="translate(1085.8,785.0) rotate(-90)" stroke="#000" stroke-width="0.45">Fractional error of ζ</text>
<text x="604.00" y="355.00" font-family="'DejaVu Sans','Liberation Sans',sans-serif" font-size="24.80px" text-anchor="start" stroke="#000" stroke-width="0.45">Original logarithmic varibles</text>
<text x="1655.50" y="355.00" font-family="'DejaVu Sans','Liberation Sans',sans-serif" font-size="24.80px" text-anchor="start" stroke="#000" stroke-width="0.45">Deduced linear varibles</text>
<text x="57.60" y="105.90" font-family="'Liberation Serif','DejaVu Serif',serif" font-size="30.00px" text-anchor="start">(<tspan dx="0.9" dy="1.8">a</tspan><tspan dx="0.9" dy="-1.8">)</tspan></text>
<text x="1080.60" y="105.90" font-family="'Liberation Serif','DejaVu Serif',serif" font-size="30.00px" text-anchor="start">(<tspan dx="0.8" dy="1.8" font-size="32.5px">b</tspan><tspan dx="0.8" dy="-1.8">)</tspan></text>
</svg>
</body></html>
